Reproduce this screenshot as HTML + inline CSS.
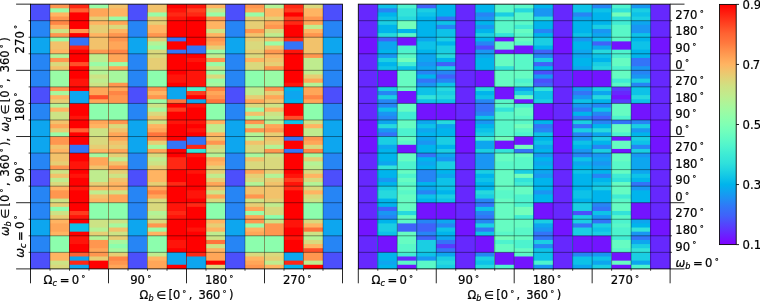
<!DOCTYPE html>
<html><head><meta charset="utf-8"><title>heatmaps</title>
<style>html,body{margin:0;padding:0;background:#fff}svg{display:block}</style></head>
<body>
<svg width="760" height="301" viewBox="0 0 760 301" font-family="'DejaVu Sans','Liberation Sans',sans-serif" fill="#000">
<rect width="760" height="301" fill="#fff"/>
<g><rect x="30.5" y="4.15" width="19.9" height="264.75" fill="#4c4ffc"/>
<rect x="30.5" y="20.7" width="19.9" height="248.2" fill="#2685f5"/>
<rect x="30.5" y="37.24" width="19.9" height="231.66" fill="#0da6ef"/>
<rect x="30.5" y="53.79" width="19.9" height="215.11" fill="#2685f5"/>
<rect x="30.5" y="86.88" width="19.9" height="182.02" fill="#4c4ffc"/>
<rect x="30.5" y="103.43" width="19.9" height="165.47" fill="#2685f5"/>
<rect x="30.5" y="119.98" width="19.9" height="148.92" fill="#0da6ef"/>
<rect x="30.5" y="153.07" width="19.9" height="115.83" fill="#2685f5"/>
<rect x="30.5" y="169.62" width="19.9" height="99.28" fill="#4c4ffc"/>
<rect x="30.5" y="186.17" width="19.9" height="82.73" fill="#2685f5"/>
<rect x="30.5" y="219.26" width="19.9" height="49.64" fill="#0da6ef"/>
<rect x="30.5" y="235.81" width="19.9" height="33.09" fill="#2685f5"/>
<rect x="30.5" y="252.35" width="19.9" height="16.55" fill="#4c4ffc"/>
<rect x="50" y="4.15" width="19.9" height="264.75" fill="#ff964f"/>
<rect x="50" y="8.29" width="19.9" height="260.61" fill="#99fca6"/>
<rect x="50" y="12.42" width="19.9" height="256.48" fill="#ffb462"/>
<rect x="50" y="16.56" width="19.9" height="252.34" fill="#ff964f"/>
<rect x="50" y="20.7" width="19.9" height="248.2" fill="#ff8545"/>
<rect x="50" y="24.83" width="19.9" height="244.07" fill="#ffb462"/>
<rect x="50" y="28.97" width="19.9" height="239.93" fill="#cce385"/>
<rect x="50" y="33.11" width="19.9" height="235.79" fill="#ff964f"/>
<rect x="50" y="37.24" width="19.9" height="231.66" fill="#99fca6"/>
<rect x="50" y="41.38" width="19.9" height="227.52" fill="#f2c26b"/>
<rect x="50" y="49.65" width="19.9" height="219.25" fill="#ffb462"/>
<rect x="50" y="53.79" width="19.9" height="215.11" fill="#b3f396"/>
<rect x="50" y="57.93" width="19.9" height="210.97" fill="#ff964f"/>
<rect x="50" y="62.06" width="19.9" height="206.84" fill="#d9d97d"/>
<rect x="50" y="66.2" width="19.9" height="202.7" fill="#f2c26b"/>
<rect x="50" y="70.34" width="19.9" height="198.56" fill="#99fca6"/>
<rect x="50" y="86.88" width="19.9" height="182.02" fill="#ff964f"/>
<rect x="50" y="91.02" width="19.9" height="177.88" fill="#a6f89e"/>
<rect x="50" y="95.16" width="19.9" height="173.74" fill="#ffb462"/>
<rect x="50" y="99.29" width="19.9" height="169.61" fill="#e6ce74"/>
<rect x="50" y="103.43" width="19.9" height="165.47" fill="#b3f396"/>
<rect x="50" y="107.57" width="19.9" height="161.33" fill="#ffb462"/>
<rect x="50" y="111.7" width="19.9" height="157.2" fill="#cce385"/>
<rect x="50" y="119.98" width="19.9" height="148.92" fill="#f2c26b"/>
<rect x="50" y="124.11" width="19.9" height="144.79" fill="#ffa658"/>
<rect x="50" y="128.25" width="19.9" height="140.65" fill="#e6ce74"/>
<rect x="50" y="132.39" width="19.9" height="136.51" fill="#99fca6"/>
<rect x="50" y="136.53" width="19.9" height="132.37" fill="#ff964f"/>
<rect x="50" y="144.8" width="19.9" height="124.1" fill="#f2c26b"/>
<rect x="50" y="148.94" width="19.9" height="119.96" fill="#ffb462"/>
<rect x="50" y="153.07" width="19.9" height="115.83" fill="#f2c26b"/>
<rect x="50" y="161.35" width="19.9" height="107.55" fill="#e6ce74"/>
<rect x="50" y="165.48" width="19.9" height="103.42" fill="#ff964f"/>
<rect x="50" y="169.62" width="19.9" height="99.28" fill="#cce385"/>
<rect x="50" y="173.76" width="19.9" height="95.14" fill="#f2c26b"/>
<rect x="50" y="177.89" width="19.9" height="91.01" fill="#bfec8e"/>
<rect x="50" y="182.03" width="19.9" height="86.87" fill="#d9d97d"/>
<rect x="50" y="186.17" width="19.9" height="82.73" fill="#ffb462"/>
<rect x="50" y="190.3" width="19.9" height="78.6" fill="#ff964f"/>
<rect x="50" y="198.58" width="19.9" height="70.32" fill="#cce385"/>
<rect x="50" y="202.71" width="19.9" height="66.19" fill="#e6ce74"/>
<rect x="50" y="206.85" width="19.9" height="62.05" fill="#8cfead"/>
<rect x="50" y="210.99" width="19.9" height="57.91" fill="#cce385"/>
<rect x="50" y="215.12" width="19.9" height="53.78" fill="#e6ce74"/>
<rect x="50" y="219.26" width="19.9" height="49.64" fill="#ffb462"/>
<rect x="50" y="223.4" width="19.9" height="45.5" fill="#ffa658"/>
<rect x="50" y="231.67" width="19.9" height="37.23" fill="#ffb462"/>
<rect x="50" y="235.81" width="19.9" height="33.09" fill="#8cfead"/>
<rect x="50" y="252.35" width="19.9" height="16.55" fill="#ffb462"/>
<rect x="50" y="260.63" width="19.9" height="8.27" fill="#cce385"/>
<rect x="50" y="264.76" width="19.9" height="4.14" fill="#d9d97d"/>
<rect x="69.5" y="4.15" width="19.9" height="264.75" fill="#ff2814"/>
<rect x="69.5" y="8.29" width="19.9" height="260.61" fill="#ff6232"/>
<rect x="69.5" y="12.42" width="19.9" height="256.48" fill="#ff0000"/>
<rect x="69.5" y="28.97" width="19.9" height="239.93" fill="#ff964f"/>
<rect x="69.5" y="33.11" width="19.9" height="235.79" fill="#ff0000"/>
<rect x="69.5" y="37.24" width="19.9" height="231.66" fill="#3374f8"/>
<rect x="69.5" y="45.52" width="19.9" height="223.38" fill="#ff2814"/>
<rect x="69.5" y="49.65" width="19.9" height="219.25" fill="#ff0000"/>
<rect x="69.5" y="62.06" width="19.9" height="206.84" fill="#ff4f28"/>
<rect x="69.5" y="66.2" width="19.9" height="202.7" fill="#ff0000"/>
<rect x="69.5" y="78.61" width="19.9" height="190.29" fill="#ff140a"/>
<rect x="69.5" y="86.88" width="19.9" height="182.02" fill="#ff0000"/>
<rect x="69.5" y="91.02" width="19.9" height="177.88" fill="#0da6ef"/>
<rect x="69.5" y="103.43" width="19.9" height="165.47" fill="#ff0000"/>
<rect x="69.5" y="115.84" width="19.9" height="153.06" fill="#ff140a"/>
<rect x="69.5" y="119.98" width="19.9" height="148.92" fill="#ff0000"/>
<rect x="69.5" y="128.25" width="19.9" height="140.65" fill="#ff6232"/>
<rect x="69.5" y="132.39" width="19.9" height="136.51" fill="#ff0000"/>
<rect x="69.5" y="144.8" width="19.9" height="124.1" fill="#3374f8"/>
<rect x="69.5" y="153.07" width="19.9" height="115.83" fill="#ff0000"/>
<rect x="69.5" y="161.35" width="19.9" height="107.55" fill="#ff140a"/>
<rect x="69.5" y="169.62" width="19.9" height="99.28" fill="#ff0000"/>
<rect x="69.5" y="173.76" width="19.9" height="95.14" fill="#ff140a"/>
<rect x="69.5" y="177.89" width="19.9" height="91.01" fill="#ff0000"/>
<rect x="69.5" y="186.17" width="19.9" height="82.73" fill="#ff140a"/>
<rect x="69.5" y="190.3" width="19.9" height="78.6" fill="#ff0000"/>
<rect x="69.5" y="210.99" width="19.9" height="57.91" fill="#ff3c1e"/>
<rect x="69.5" y="215.12" width="19.9" height="53.78" fill="#ff140a"/>
<rect x="69.5" y="219.26" width="19.9" height="49.64" fill="#ff0000"/>
<rect x="69.5" y="223.4" width="19.9" height="45.5" fill="#0dc2e8"/>
<rect x="69.5" y="231.67" width="19.9" height="37.23" fill="#ff0000"/>
<rect x="69.5" y="235.81" width="19.9" height="33.09" fill="#ff140a"/>
<rect x="69.5" y="244.08" width="19.9" height="24.82" fill="#ff0000"/>
<rect x="69.5" y="252.35" width="19.9" height="16.55" fill="#ff6232"/>
<rect x="69.5" y="256.49" width="19.9" height="12.41" fill="#0da6ef"/>
<rect x="69.5" y="260.63" width="19.9" height="8.27" fill="#ff2814"/>
<rect x="69.5" y="264.76" width="19.9" height="4.14" fill="#0da6ef"/>
<rect x="89" y="4.15" width="19.9" height="264.75" fill="#99fca6"/>
<rect x="89" y="8.29" width="19.9" height="260.61" fill="#ffa658"/>
<rect x="89" y="16.56" width="19.9" height="252.34" fill="#e6ce74"/>
<rect x="89" y="20.7" width="19.9" height="248.2" fill="#ffb462"/>
<rect x="89" y="24.83" width="19.9" height="244.07" fill="#e6ce74"/>
<rect x="89" y="33.11" width="19.9" height="235.79" fill="#ffb462"/>
<rect x="89" y="37.24" width="19.9" height="231.66" fill="#f2c26b"/>
<rect x="89" y="49.65" width="19.9" height="219.25" fill="#ff964f"/>
<rect x="89" y="53.79" width="19.9" height="215.11" fill="#bfec8e"/>
<rect x="89" y="62.06" width="19.9" height="206.84" fill="#99fca6"/>
<rect x="89" y="66.2" width="19.9" height="202.7" fill="#bfec8e"/>
<rect x="89" y="70.34" width="19.9" height="198.56" fill="#b3f396"/>
<rect x="89" y="74.47" width="19.9" height="194.43" fill="#cce385"/>
<rect x="89" y="78.61" width="19.9" height="190.29" fill="#bfec8e"/>
<rect x="89" y="82.75" width="19.9" height="186.15" fill="#cce385"/>
<rect x="89" y="86.88" width="19.9" height="182.02" fill="#ffa658"/>
<rect x="89" y="95.16" width="19.9" height="173.74" fill="#ff4f28"/>
<rect x="89" y="99.29" width="19.9" height="169.61" fill="#ffa658"/>
<rect x="89" y="103.43" width="19.9" height="165.47" fill="#8cfead"/>
<rect x="89" y="119.98" width="19.9" height="148.92" fill="#ffa658"/>
<rect x="89" y="124.11" width="19.9" height="144.79" fill="#ffb462"/>
<rect x="89" y="128.25" width="19.9" height="140.65" fill="#cce385"/>
<rect x="89" y="136.53" width="19.9" height="132.37" fill="#d9d97d"/>
<rect x="89" y="144.8" width="19.9" height="124.1" fill="#e6ce74"/>
<rect x="89" y="148.94" width="19.9" height="119.96" fill="#ffb462"/>
<rect x="89" y="153.07" width="19.9" height="115.83" fill="#a6f89e"/>
<rect x="89" y="157.21" width="19.9" height="111.69" fill="#ffa658"/>
<rect x="89" y="165.48" width="19.9" height="103.42" fill="#f2c26b"/>
<rect x="89" y="169.62" width="19.9" height="99.28" fill="#bfec8e"/>
<rect x="89" y="182.03" width="19.9" height="86.87" fill="#e6ce74"/>
<rect x="89" y="186.17" width="19.9" height="82.73" fill="#ffb462"/>
<rect x="89" y="190.3" width="19.9" height="78.6" fill="#bfec8e"/>
<rect x="89" y="194.44" width="19.9" height="74.46" fill="#f2c26b"/>
<rect x="89" y="198.58" width="19.9" height="70.32" fill="#ffb462"/>
<rect x="89" y="202.71" width="19.9" height="66.19" fill="#8cfead"/>
<rect x="89" y="219.26" width="19.9" height="49.64" fill="#cce385"/>
<rect x="89" y="227.53" width="19.9" height="41.37" fill="#b3f396"/>
<rect x="89" y="231.67" width="19.9" height="37.23" fill="#e6ce74"/>
<rect x="89" y="235.81" width="19.9" height="33.09" fill="#b3f396"/>
<rect x="89" y="239.94" width="19.9" height="28.96" fill="#ff964f"/>
<rect x="89" y="248.22" width="19.9" height="20.68" fill="#ffa658"/>
<rect x="89" y="252.35" width="19.9" height="16.55" fill="#ff964f"/>
<rect x="89" y="256.49" width="19.9" height="12.41" fill="#e6ce74"/>
<rect x="89" y="260.63" width="19.9" height="8.27" fill="#ff0000"/>
<rect x="108.5" y="4.15" width="19.9" height="264.75" fill="#f2c26b"/>
<rect x="108.5" y="8.29" width="19.9" height="260.61" fill="#ffb462"/>
<rect x="108.5" y="16.56" width="19.9" height="252.34" fill="#99fca6"/>
<rect x="108.5" y="20.7" width="19.9" height="248.2" fill="#ffa658"/>
<rect x="108.5" y="24.83" width="19.9" height="244.07" fill="#d9d97d"/>
<rect x="108.5" y="28.97" width="19.9" height="239.93" fill="#ffb462"/>
<rect x="108.5" y="33.11" width="19.9" height="235.79" fill="#ff964f"/>
<rect x="108.5" y="41.38" width="19.9" height="227.52" fill="#ffa658"/>
<rect x="108.5" y="49.65" width="19.9" height="219.25" fill="#ff8545"/>
<rect x="108.5" y="53.79" width="19.9" height="215.11" fill="#ffa658"/>
<rect x="108.5" y="62.06" width="19.9" height="206.84" fill="#99fca6"/>
<rect x="108.5" y="66.2" width="19.9" height="202.7" fill="#ffa658"/>
<rect x="108.5" y="70.34" width="19.9" height="198.56" fill="#a6f89e"/>
<rect x="108.5" y="82.75" width="19.9" height="186.15" fill="#ff964f"/>
<rect x="108.5" y="86.88" width="19.9" height="182.02" fill="#ffa658"/>
<rect x="108.5" y="91.02" width="19.9" height="177.88" fill="#ff8545"/>
<rect x="108.5" y="95.16" width="19.9" height="173.74" fill="#ff964f"/>
<rect x="108.5" y="103.43" width="19.9" height="165.47" fill="#8cfead"/>
<rect x="108.5" y="119.98" width="19.9" height="148.92" fill="#ff964f"/>
<rect x="108.5" y="124.11" width="19.9" height="144.79" fill="#d9d97d"/>
<rect x="108.5" y="128.25" width="19.9" height="140.65" fill="#f2c26b"/>
<rect x="108.5" y="132.39" width="19.9" height="136.51" fill="#ffa658"/>
<rect x="108.5" y="140.66" width="19.9" height="128.24" fill="#f2c26b"/>
<rect x="108.5" y="144.8" width="19.9" height="124.1" fill="#e6ce74"/>
<rect x="108.5" y="148.94" width="19.9" height="119.96" fill="#ffa658"/>
<rect x="108.5" y="153.07" width="19.9" height="115.83" fill="#e6ce74"/>
<rect x="108.5" y="157.21" width="19.9" height="111.69" fill="#bfec8e"/>
<rect x="108.5" y="161.35" width="19.9" height="107.55" fill="#f2c26b"/>
<rect x="108.5" y="165.48" width="19.9" height="103.42" fill="#ff964f"/>
<rect x="108.5" y="169.62" width="19.9" height="99.28" fill="#e6ce74"/>
<rect x="108.5" y="173.76" width="19.9" height="95.14" fill="#cce385"/>
<rect x="108.5" y="177.89" width="19.9" height="91.01" fill="#f2c26b"/>
<rect x="108.5" y="182.03" width="19.9" height="86.87" fill="#ffb462"/>
<rect x="108.5" y="190.3" width="19.9" height="78.6" fill="#cce385"/>
<rect x="108.5" y="194.44" width="19.9" height="74.46" fill="#ffa658"/>
<rect x="108.5" y="202.71" width="19.9" height="66.19" fill="#8cfead"/>
<rect x="108.5" y="219.26" width="19.9" height="49.64" fill="#cce385"/>
<rect x="108.5" y="223.4" width="19.9" height="45.5" fill="#a6f89e"/>
<rect x="108.5" y="227.53" width="19.9" height="41.37" fill="#f2c26b"/>
<rect x="108.5" y="231.67" width="19.9" height="37.23" fill="#cce385"/>
<rect x="108.5" y="235.81" width="19.9" height="33.09" fill="#e6ce74"/>
<rect x="108.5" y="239.94" width="19.9" height="28.96" fill="#a6f89e"/>
<rect x="108.5" y="244.08" width="19.9" height="24.82" fill="#8cfead"/>
<rect x="108.5" y="248.22" width="19.9" height="20.68" fill="#a6f89e"/>
<rect x="108.5" y="252.35" width="19.9" height="16.55" fill="#e6ce74"/>
<rect x="108.5" y="256.49" width="19.9" height="12.41" fill="#ff8545"/>
<rect x="108.5" y="260.63" width="19.9" height="8.27" fill="#ff964f"/>
<rect x="108.5" y="264.76" width="19.9" height="4.14" fill="#ffa658"/>
<rect x="128" y="4.15" width="19.9" height="264.75" fill="#4c4ffc"/>
<rect x="128" y="20.7" width="19.9" height="248.2" fill="#2685f5"/>
<rect x="128" y="37.24" width="19.9" height="231.66" fill="#0da6ef"/>
<rect x="128" y="53.79" width="19.9" height="215.11" fill="#2685f5"/>
<rect x="128" y="86.88" width="19.9" height="182.02" fill="#4c4ffc"/>
<rect x="128" y="103.43" width="19.9" height="165.47" fill="#2685f5"/>
<rect x="128" y="119.98" width="19.9" height="148.92" fill="#0da6ef"/>
<rect x="128" y="153.07" width="19.9" height="115.83" fill="#2685f5"/>
<rect x="128" y="169.62" width="19.9" height="99.28" fill="#4c4ffc"/>
<rect x="128" y="186.17" width="19.9" height="82.73" fill="#2685f5"/>
<rect x="128" y="219.26" width="19.9" height="49.64" fill="#0da6ef"/>
<rect x="128" y="235.81" width="19.9" height="33.09" fill="#2685f5"/>
<rect x="128" y="252.35" width="19.9" height="16.55" fill="#4c4ffc"/>
<rect x="147.5" y="4.15" width="19.9" height="264.75" fill="#f2c26b"/>
<rect x="147.5" y="12.42" width="19.9" height="256.48" fill="#99fca6"/>
<rect x="147.5" y="16.56" width="19.9" height="252.34" fill="#e6ce74"/>
<rect x="147.5" y="24.83" width="19.9" height="244.07" fill="#ffb462"/>
<rect x="147.5" y="33.11" width="19.9" height="235.79" fill="#ff964f"/>
<rect x="147.5" y="37.24" width="19.9" height="231.66" fill="#e6ce74"/>
<rect x="147.5" y="41.38" width="19.9" height="227.52" fill="#b3f396"/>
<rect x="147.5" y="45.52" width="19.9" height="223.38" fill="#99fca6"/>
<rect x="147.5" y="49.65" width="19.9" height="219.25" fill="#d9d97d"/>
<rect x="147.5" y="57.93" width="19.9" height="210.97" fill="#e6ce74"/>
<rect x="147.5" y="70.34" width="19.9" height="198.56" fill="#8cfead"/>
<rect x="147.5" y="86.88" width="19.9" height="182.02" fill="#ff964f"/>
<rect x="147.5" y="91.02" width="19.9" height="177.88" fill="#ffb462"/>
<rect x="147.5" y="95.16" width="19.9" height="173.74" fill="#ff964f"/>
<rect x="147.5" y="99.29" width="19.9" height="169.61" fill="#99fca6"/>
<rect x="147.5" y="103.43" width="19.9" height="165.47" fill="#cce385"/>
<rect x="147.5" y="107.57" width="19.9" height="161.33" fill="#a6f89e"/>
<rect x="147.5" y="111.7" width="19.9" height="157.2" fill="#d9d97d"/>
<rect x="147.5" y="115.84" width="19.9" height="153.06" fill="#f2c26b"/>
<rect x="147.5" y="119.98" width="19.9" height="148.92" fill="#cce385"/>
<rect x="147.5" y="124.11" width="19.9" height="144.79" fill="#ffb462"/>
<rect x="147.5" y="128.25" width="19.9" height="140.65" fill="#ffa658"/>
<rect x="147.5" y="132.39" width="19.9" height="136.51" fill="#ff743c"/>
<rect x="147.5" y="136.53" width="19.9" height="132.37" fill="#ff8545"/>
<rect x="147.5" y="140.66" width="19.9" height="128.24" fill="#e6ce74"/>
<rect x="147.5" y="144.8" width="19.9" height="124.1" fill="#a6f89e"/>
<rect x="147.5" y="148.94" width="19.9" height="119.96" fill="#ffa658"/>
<rect x="147.5" y="153.07" width="19.9" height="115.83" fill="#d9d97d"/>
<rect x="147.5" y="157.21" width="19.9" height="111.69" fill="#bfec8e"/>
<rect x="147.5" y="161.35" width="19.9" height="107.55" fill="#cce385"/>
<rect x="147.5" y="165.48" width="19.9" height="103.42" fill="#e6ce74"/>
<rect x="147.5" y="169.62" width="19.9" height="99.28" fill="#ffb462"/>
<rect x="147.5" y="182.03" width="19.9" height="86.87" fill="#e6ce74"/>
<rect x="147.5" y="186.17" width="19.9" height="82.73" fill="#ffa658"/>
<rect x="147.5" y="190.3" width="19.9" height="78.6" fill="#ff8545"/>
<rect x="147.5" y="194.44" width="19.9" height="74.46" fill="#ffa658"/>
<rect x="147.5" y="198.58" width="19.9" height="70.32" fill="#d9d97d"/>
<rect x="147.5" y="210.99" width="19.9" height="57.91" fill="#b3f396"/>
<rect x="147.5" y="215.12" width="19.9" height="53.78" fill="#bfec8e"/>
<rect x="147.5" y="219.26" width="19.9" height="49.64" fill="#d9d97d"/>
<rect x="147.5" y="223.4" width="19.9" height="45.5" fill="#ff964f"/>
<rect x="147.5" y="227.53" width="19.9" height="41.37" fill="#99fca6"/>
<rect x="147.5" y="231.67" width="19.9" height="37.23" fill="#ffb462"/>
<rect x="147.5" y="235.81" width="19.9" height="33.09" fill="#8cfead"/>
<rect x="147.5" y="252.35" width="19.9" height="16.55" fill="#bfec8e"/>
<rect x="147.5" y="256.49" width="19.9" height="12.41" fill="#ffb462"/>
<rect x="147.5" y="260.63" width="19.9" height="8.27" fill="#ffa658"/>
<rect x="167" y="4.15" width="19.9" height="264.75" fill="#ff0000"/>
<rect x="167" y="8.29" width="19.9" height="260.61" fill="#ff140a"/>
<rect x="167" y="12.42" width="19.9" height="256.48" fill="#ff2814"/>
<rect x="167" y="16.56" width="19.9" height="252.34" fill="#ff140a"/>
<rect x="167" y="20.7" width="19.9" height="248.2" fill="#ff0000"/>
<rect x="167" y="37.24" width="19.9" height="231.66" fill="#3374f8"/>
<rect x="167" y="41.38" width="19.9" height="227.52" fill="#ff0000"/>
<rect x="167" y="49.65" width="19.9" height="219.25" fill="#3374f8"/>
<rect x="167" y="53.79" width="19.9" height="215.11" fill="#ff0000"/>
<rect x="167" y="74.47" width="19.9" height="194.43" fill="#ff140a"/>
<rect x="167" y="82.75" width="19.9" height="186.15" fill="#ff0000"/>
<rect x="167" y="86.88" width="19.9" height="182.02" fill="#0da6ef"/>
<rect x="167" y="99.29" width="19.9" height="169.61" fill="#ff743c"/>
<rect x="167" y="103.43" width="19.9" height="165.47" fill="#ff0000"/>
<rect x="167" y="107.57" width="19.9" height="161.33" fill="#ff3c1e"/>
<rect x="167" y="111.7" width="19.9" height="157.2" fill="#ff0000"/>
<rect x="167" y="119.98" width="19.9" height="148.92" fill="#ff140a"/>
<rect x="167" y="124.11" width="19.9" height="144.79" fill="#ff0000"/>
<rect x="167" y="140.66" width="19.9" height="128.24" fill="#3374f8"/>
<rect x="167" y="148.94" width="19.9" height="119.96" fill="#ff0000"/>
<rect x="167" y="157.21" width="19.9" height="111.69" fill="#ff2814"/>
<rect x="167" y="169.62" width="19.9" height="99.28" fill="#ff0000"/>
<rect x="167" y="182.03" width="19.9" height="86.87" fill="#ff2814"/>
<rect x="167" y="186.17" width="19.9" height="82.73" fill="#ff0000"/>
<rect x="167" y="202.71" width="19.9" height="66.19" fill="#ff140a"/>
<rect x="167" y="210.99" width="19.9" height="57.91" fill="#ff2814"/>
<rect x="167" y="215.12" width="19.9" height="53.78" fill="#ff140a"/>
<rect x="167" y="219.26" width="19.9" height="49.64" fill="#ff0000"/>
<rect x="167" y="239.94" width="19.9" height="28.96" fill="#ff140a"/>
<rect x="167" y="248.22" width="19.9" height="20.68" fill="#ff0000"/>
<rect x="167" y="252.35" width="19.9" height="16.55" fill="#0da6ef"/>
<rect x="167" y="264.76" width="19.9" height="4.14" fill="#ff0000"/>
<rect x="186.5" y="4.15" width="19.9" height="264.75" fill="#ff140a"/>
<rect x="186.5" y="8.29" width="19.9" height="260.61" fill="#ff3c1e"/>
<rect x="186.5" y="12.42" width="19.9" height="256.48" fill="#ff2814"/>
<rect x="186.5" y="16.56" width="19.9" height="252.34" fill="#ff0000"/>
<rect x="186.5" y="45.52" width="19.9" height="223.38" fill="#3374f8"/>
<rect x="186.5" y="53.79" width="19.9" height="215.11" fill="#ff0000"/>
<rect x="186.5" y="57.93" width="19.9" height="210.97" fill="#ff140a"/>
<rect x="186.5" y="62.06" width="19.9" height="206.84" fill="#ff0000"/>
<rect x="186.5" y="70.34" width="19.9" height="198.56" fill="#ff140a"/>
<rect x="186.5" y="86.88" width="19.9" height="182.02" fill="#4df3ce"/>
<rect x="186.5" y="91.02" width="19.9" height="177.88" fill="#ff3c1e"/>
<rect x="186.5" y="95.16" width="19.9" height="173.74" fill="#ff0000"/>
<rect x="186.5" y="99.29" width="19.9" height="169.61" fill="#0da6ef"/>
<rect x="186.5" y="103.43" width="19.9" height="165.47" fill="#ff140a"/>
<rect x="186.5" y="107.57" width="19.9" height="161.33" fill="#ff0000"/>
<rect x="186.5" y="119.98" width="19.9" height="148.92" fill="#ff140a"/>
<rect x="186.5" y="124.11" width="19.9" height="144.79" fill="#ff0000"/>
<rect x="186.5" y="128.25" width="19.9" height="140.65" fill="#ff140a"/>
<rect x="186.5" y="132.39" width="19.9" height="136.51" fill="#ff0000"/>
<rect x="186.5" y="136.53" width="19.9" height="132.37" fill="#3374f8"/>
<rect x="186.5" y="144.8" width="19.9" height="124.1" fill="#ff2814"/>
<rect x="186.5" y="148.94" width="19.9" height="119.96" fill="#33e3d9"/>
<rect x="186.5" y="153.07" width="19.9" height="115.83" fill="#ff140a"/>
<rect x="186.5" y="157.21" width="19.9" height="111.69" fill="#ff0000"/>
<rect x="186.5" y="169.62" width="19.9" height="99.28" fill="#ff140a"/>
<rect x="186.5" y="173.76" width="19.9" height="95.14" fill="#ff0000"/>
<rect x="186.5" y="190.3" width="19.9" height="78.6" fill="#ff140a"/>
<rect x="186.5" y="198.58" width="19.9" height="70.32" fill="#ff0000"/>
<rect x="186.5" y="202.71" width="19.9" height="66.19" fill="#ff2814"/>
<rect x="186.5" y="206.85" width="19.9" height="62.05" fill="#ff0000"/>
<rect x="186.5" y="227.53" width="19.9" height="41.37" fill="#ff140a"/>
<rect x="186.5" y="231.67" width="19.9" height="37.23" fill="#ff0000"/>
<rect x="186.5" y="252.35" width="19.9" height="16.55" fill="#ff2814"/>
<rect x="186.5" y="256.49" width="19.9" height="12.41" fill="#0da6ef"/>
<rect x="206" y="4.15" width="19.9" height="264.75" fill="#ffb462"/>
<rect x="206" y="8.29" width="19.9" height="260.61" fill="#cce385"/>
<rect x="206" y="12.42" width="19.9" height="256.48" fill="#99fca6"/>
<rect x="206" y="16.56" width="19.9" height="252.34" fill="#ff964f"/>
<rect x="206" y="20.7" width="19.9" height="248.2" fill="#ffb462"/>
<rect x="206" y="28.97" width="19.9" height="239.93" fill="#cce385"/>
<rect x="206" y="33.11" width="19.9" height="235.79" fill="#ffb462"/>
<rect x="206" y="37.24" width="19.9" height="231.66" fill="#ff964f"/>
<rect x="206" y="41.38" width="19.9" height="227.52" fill="#ffa658"/>
<rect x="206" y="45.52" width="19.9" height="223.38" fill="#e6ce74"/>
<rect x="206" y="49.65" width="19.9" height="219.25" fill="#99fca6"/>
<rect x="206" y="53.79" width="19.9" height="215.11" fill="#bfec8e"/>
<rect x="206" y="57.93" width="19.9" height="210.97" fill="#ff964f"/>
<rect x="206" y="62.06" width="19.9" height="206.84" fill="#99fca6"/>
<rect x="206" y="66.2" width="19.9" height="202.7" fill="#cce385"/>
<rect x="206" y="70.34" width="19.9" height="198.56" fill="#99fca6"/>
<rect x="206" y="74.47" width="19.9" height="194.43" fill="#d9d97d"/>
<rect x="206" y="78.61" width="19.9" height="190.29" fill="#99fca6"/>
<rect x="206" y="82.75" width="19.9" height="186.15" fill="#a6f89e"/>
<rect x="206" y="86.88" width="19.9" height="182.02" fill="#ff8545"/>
<rect x="206" y="91.02" width="19.9" height="177.88" fill="#ffa658"/>
<rect x="206" y="95.16" width="19.9" height="173.74" fill="#ff964f"/>
<rect x="206" y="99.29" width="19.9" height="169.61" fill="#ff743c"/>
<rect x="206" y="103.43" width="19.9" height="165.47" fill="#8cfead"/>
<rect x="206" y="119.98" width="19.9" height="148.92" fill="#ffb462"/>
<rect x="206" y="124.11" width="19.9" height="144.79" fill="#bfec8e"/>
<rect x="206" y="132.39" width="19.9" height="136.51" fill="#ffb462"/>
<rect x="206" y="136.53" width="19.9" height="132.37" fill="#f2c26b"/>
<rect x="206" y="140.66" width="19.9" height="128.24" fill="#ff964f"/>
<rect x="206" y="144.8" width="19.9" height="124.1" fill="#d9d97d"/>
<rect x="206" y="148.94" width="19.9" height="119.96" fill="#cce385"/>
<rect x="206" y="153.07" width="19.9" height="115.83" fill="#b3f396"/>
<rect x="206" y="157.21" width="19.9" height="111.69" fill="#ffa658"/>
<rect x="206" y="161.35" width="19.9" height="107.55" fill="#ffb462"/>
<rect x="206" y="165.48" width="19.9" height="103.42" fill="#e6ce74"/>
<rect x="206" y="173.76" width="19.9" height="95.14" fill="#bfec8e"/>
<rect x="206" y="177.89" width="19.9" height="91.01" fill="#e6ce74"/>
<rect x="206" y="182.03" width="19.9" height="86.87" fill="#ffa658"/>
<rect x="206" y="186.17" width="19.9" height="82.73" fill="#f2c26b"/>
<rect x="206" y="190.3" width="19.9" height="78.6" fill="#cce385"/>
<rect x="206" y="194.44" width="19.9" height="74.46" fill="#ffa658"/>
<rect x="206" y="198.58" width="19.9" height="70.32" fill="#d9d97d"/>
<rect x="206" y="202.71" width="19.9" height="66.19" fill="#8cfead"/>
<rect x="206" y="219.26" width="19.9" height="49.64" fill="#ffb462"/>
<rect x="206" y="223.4" width="19.9" height="45.5" fill="#e6ce74"/>
<rect x="206" y="227.53" width="19.9" height="41.37" fill="#ffb462"/>
<rect x="206" y="231.67" width="19.9" height="37.23" fill="#bfec8e"/>
<rect x="206" y="235.81" width="19.9" height="33.09" fill="#cce385"/>
<rect x="206" y="239.94" width="19.9" height="28.96" fill="#ff743c"/>
<rect x="206" y="244.08" width="19.9" height="24.82" fill="#cce385"/>
<rect x="206" y="248.22" width="19.9" height="20.68" fill="#ffb462"/>
<rect x="206" y="252.35" width="19.9" height="16.55" fill="#ffa658"/>
<rect x="206" y="260.63" width="19.9" height="8.27" fill="#ff0000"/>
<rect x="206" y="264.76" width="19.9" height="4.14" fill="#d9d97d"/>
<rect x="225.5" y="4.15" width="19.9" height="264.75" fill="#4c4ffc"/>
<rect x="225.5" y="20.7" width="19.9" height="248.2" fill="#2685f5"/>
<rect x="225.5" y="37.24" width="19.9" height="231.66" fill="#0da6ef"/>
<rect x="225.5" y="53.79" width="19.9" height="215.11" fill="#2685f5"/>
<rect x="225.5" y="86.88" width="19.9" height="182.02" fill="#4c4ffc"/>
<rect x="225.5" y="103.43" width="19.9" height="165.47" fill="#2685f5"/>
<rect x="225.5" y="119.98" width="19.9" height="148.92" fill="#0da6ef"/>
<rect x="225.5" y="153.07" width="19.9" height="115.83" fill="#2685f5"/>
<rect x="225.5" y="169.62" width="19.9" height="99.28" fill="#4c4ffc"/>
<rect x="225.5" y="186.17" width="19.9" height="82.73" fill="#2685f5"/>
<rect x="225.5" y="219.26" width="19.9" height="49.64" fill="#0da6ef"/>
<rect x="225.5" y="235.81" width="19.9" height="33.09" fill="#2685f5"/>
<rect x="225.5" y="252.35" width="19.9" height="16.55" fill="#4c4ffc"/>
<rect x="245" y="4.15" width="19.9" height="264.75" fill="#ff964f"/>
<rect x="245" y="8.29" width="19.9" height="260.61" fill="#ffa658"/>
<rect x="245" y="12.42" width="19.9" height="256.48" fill="#99fca6"/>
<rect x="245" y="16.56" width="19.9" height="252.34" fill="#e6ce74"/>
<rect x="245" y="28.97" width="19.9" height="239.93" fill="#ff964f"/>
<rect x="245" y="33.11" width="19.9" height="235.79" fill="#f2c26b"/>
<rect x="245" y="37.24" width="19.9" height="231.66" fill="#e6ce74"/>
<rect x="245" y="41.38" width="19.9" height="227.52" fill="#d9d97d"/>
<rect x="245" y="49.65" width="19.9" height="219.25" fill="#e6ce74"/>
<rect x="245" y="53.79" width="19.9" height="215.11" fill="#d9d97d"/>
<rect x="245" y="57.93" width="19.9" height="210.97" fill="#ffb462"/>
<rect x="245" y="62.06" width="19.9" height="206.84" fill="#d9d97d"/>
<rect x="245" y="70.34" width="19.9" height="198.56" fill="#8cfead"/>
<rect x="245" y="86.88" width="19.9" height="182.02" fill="#bfec8e"/>
<rect x="245" y="95.16" width="19.9" height="173.74" fill="#e6ce74"/>
<rect x="245" y="99.29" width="19.9" height="169.61" fill="#ffa658"/>
<rect x="245" y="103.43" width="19.9" height="165.47" fill="#d9d97d"/>
<rect x="245" y="107.57" width="19.9" height="161.33" fill="#99fca6"/>
<rect x="245" y="111.7" width="19.9" height="157.2" fill="#f2c26b"/>
<rect x="245" y="115.84" width="19.9" height="153.06" fill="#a6f89e"/>
<rect x="245" y="119.98" width="19.9" height="148.92" fill="#ff964f"/>
<rect x="245" y="124.11" width="19.9" height="144.79" fill="#bfec8e"/>
<rect x="245" y="128.25" width="19.9" height="140.65" fill="#ff964f"/>
<rect x="245" y="132.39" width="19.9" height="136.51" fill="#b3f396"/>
<rect x="245" y="140.66" width="19.9" height="128.24" fill="#f2c26b"/>
<rect x="245" y="144.8" width="19.9" height="124.1" fill="#d9d97d"/>
<rect x="245" y="153.07" width="19.9" height="115.83" fill="#a6f89e"/>
<rect x="245" y="157.21" width="19.9" height="111.69" fill="#f2c26b"/>
<rect x="245" y="161.35" width="19.9" height="107.55" fill="#d9d97d"/>
<rect x="245" y="169.62" width="19.9" height="99.28" fill="#ffa658"/>
<rect x="245" y="173.76" width="19.9" height="95.14" fill="#e6ce74"/>
<rect x="245" y="177.89" width="19.9" height="91.01" fill="#d9d97d"/>
<rect x="245" y="182.03" width="19.9" height="86.87" fill="#b3f396"/>
<rect x="245" y="186.17" width="19.9" height="82.73" fill="#f2c26b"/>
<rect x="245" y="194.44" width="19.9" height="74.46" fill="#ff964f"/>
<rect x="245" y="198.58" width="19.9" height="70.32" fill="#cce385"/>
<rect x="245" y="202.71" width="19.9" height="66.19" fill="#e6ce74"/>
<rect x="245" y="206.85" width="19.9" height="62.05" fill="#ffa658"/>
<rect x="245" y="210.99" width="19.9" height="57.91" fill="#99fca6"/>
<rect x="245" y="215.12" width="19.9" height="53.78" fill="#ffa658"/>
<rect x="245" y="219.26" width="19.9" height="49.64" fill="#ff964f"/>
<rect x="245" y="223.4" width="19.9" height="45.5" fill="#99fca6"/>
<rect x="245" y="227.53" width="19.9" height="41.37" fill="#ffb462"/>
<rect x="245" y="231.67" width="19.9" height="37.23" fill="#ffa658"/>
<rect x="245" y="235.81" width="19.9" height="33.09" fill="#8cfead"/>
<rect x="245" y="252.35" width="19.9" height="16.55" fill="#d9d97d"/>
<rect x="245" y="256.49" width="19.9" height="12.41" fill="#ffb462"/>
<rect x="245" y="260.63" width="19.9" height="8.27" fill="#ffa658"/>
<rect x="245" y="264.76" width="19.9" height="4.14" fill="#ff964f"/>
<rect x="264.5" y="4.15" width="19.9" height="264.75" fill="#b3f396"/>
<rect x="264.5" y="8.29" width="19.9" height="260.61" fill="#ffb462"/>
<rect x="264.5" y="16.56" width="19.9" height="252.34" fill="#e6ce74"/>
<rect x="264.5" y="20.7" width="19.9" height="248.2" fill="#ffa658"/>
<rect x="264.5" y="24.83" width="19.9" height="244.07" fill="#ff964f"/>
<rect x="264.5" y="28.97" width="19.9" height="239.93" fill="#d9d97d"/>
<rect x="264.5" y="33.11" width="19.9" height="235.79" fill="#bfec8e"/>
<rect x="264.5" y="37.24" width="19.9" height="231.66" fill="#f2c26b"/>
<rect x="264.5" y="41.38" width="19.9" height="227.52" fill="#99fca6"/>
<rect x="264.5" y="45.52" width="19.9" height="223.38" fill="#f2c26b"/>
<rect x="264.5" y="49.65" width="19.9" height="219.25" fill="#ff964f"/>
<rect x="264.5" y="53.79" width="19.9" height="215.11" fill="#ffb462"/>
<rect x="264.5" y="57.93" width="19.9" height="210.97" fill="#f2c26b"/>
<rect x="264.5" y="62.06" width="19.9" height="206.84" fill="#e6ce74"/>
<rect x="264.5" y="66.2" width="19.9" height="202.7" fill="#ff964f"/>
<rect x="264.5" y="70.34" width="19.9" height="198.56" fill="#99fca6"/>
<rect x="264.5" y="86.88" width="19.9" height="182.02" fill="#ff964f"/>
<rect x="264.5" y="91.02" width="19.9" height="177.88" fill="#e6ce74"/>
<rect x="264.5" y="95.16" width="19.9" height="173.74" fill="#ffa658"/>
<rect x="264.5" y="99.29" width="19.9" height="169.61" fill="#f2c26b"/>
<rect x="264.5" y="103.43" width="19.9" height="165.47" fill="#cce385"/>
<rect x="264.5" y="107.57" width="19.9" height="161.33" fill="#ffb462"/>
<rect x="264.5" y="111.7" width="19.9" height="157.2" fill="#cce385"/>
<rect x="264.5" y="115.84" width="19.9" height="153.06" fill="#bfec8e"/>
<rect x="264.5" y="119.98" width="19.9" height="148.92" fill="#b3f396"/>
<rect x="264.5" y="124.11" width="19.9" height="144.79" fill="#ffa658"/>
<rect x="264.5" y="128.25" width="19.9" height="140.65" fill="#ff964f"/>
<rect x="264.5" y="132.39" width="19.9" height="136.51" fill="#e6ce74"/>
<rect x="264.5" y="136.53" width="19.9" height="132.37" fill="#f2c26b"/>
<rect x="264.5" y="140.66" width="19.9" height="128.24" fill="#e6ce74"/>
<rect x="264.5" y="144.8" width="19.9" height="124.1" fill="#b3f396"/>
<rect x="264.5" y="148.94" width="19.9" height="119.96" fill="#ff964f"/>
<rect x="264.5" y="153.07" width="19.9" height="115.83" fill="#cce385"/>
<rect x="264.5" y="157.21" width="19.9" height="111.69" fill="#d9d97d"/>
<rect x="264.5" y="169.62" width="19.9" height="99.28" fill="#e6ce74"/>
<rect x="264.5" y="173.76" width="19.9" height="95.14" fill="#b3f396"/>
<rect x="264.5" y="177.89" width="19.9" height="91.01" fill="#e6ce74"/>
<rect x="264.5" y="182.03" width="19.9" height="86.87" fill="#f2c26b"/>
<rect x="264.5" y="198.58" width="19.9" height="70.32" fill="#e6ce74"/>
<rect x="264.5" y="202.71" width="19.9" height="66.19" fill="#bfec8e"/>
<rect x="264.5" y="206.85" width="19.9" height="62.05" fill="#d9d97d"/>
<rect x="264.5" y="215.12" width="19.9" height="53.78" fill="#8cfead"/>
<rect x="264.5" y="219.26" width="19.9" height="49.64" fill="#cce385"/>
<rect x="264.5" y="223.4" width="19.9" height="45.5" fill="#ff964f"/>
<rect x="264.5" y="235.81" width="19.9" height="33.09" fill="#8cfead"/>
<rect x="264.5" y="252.35" width="19.9" height="16.55" fill="#d9d97d"/>
<rect x="264.5" y="256.49" width="19.9" height="12.41" fill="#e6ce74"/>
<rect x="264.5" y="260.63" width="19.9" height="8.27" fill="#bfec8e"/>
<rect x="264.5" y="264.76" width="19.9" height="4.14" fill="#ffb462"/>
<rect x="284" y="4.15" width="19.9" height="264.75" fill="#ff2814"/>
<rect x="284" y="8.29" width="19.9" height="260.61" fill="#ff3c1e"/>
<rect x="284" y="12.42" width="19.9" height="256.48" fill="#ff0000"/>
<rect x="284" y="16.56" width="19.9" height="252.34" fill="#ff3c1e"/>
<rect x="284" y="20.7" width="19.9" height="248.2" fill="#ff2814"/>
<rect x="284" y="24.83" width="19.9" height="244.07" fill="#ff0000"/>
<rect x="284" y="37.24" width="19.9" height="231.66" fill="#ff2814"/>
<rect x="284" y="41.38" width="19.9" height="227.52" fill="#3374f8"/>
<rect x="284" y="49.65" width="19.9" height="219.25" fill="#ff140a"/>
<rect x="284" y="53.79" width="19.9" height="215.11" fill="#ff0000"/>
<rect x="284" y="82.75" width="19.9" height="186.15" fill="#ff140a"/>
<rect x="284" y="86.88" width="19.9" height="182.02" fill="#00b4ec"/>
<rect x="284" y="91.02" width="19.9" height="177.88" fill="#0da6ef"/>
<rect x="284" y="99.29" width="19.9" height="169.61" fill="#00b4ec"/>
<rect x="284" y="103.43" width="19.9" height="165.47" fill="#ff0000"/>
<rect x="284" y="115.84" width="19.9" height="153.06" fill="#ff4f28"/>
<rect x="284" y="119.98" width="19.9" height="148.92" fill="#0dc2e8"/>
<rect x="284" y="124.11" width="19.9" height="144.79" fill="#ff0000"/>
<rect x="284" y="136.53" width="19.9" height="132.37" fill="#3374f8"/>
<rect x="284" y="140.66" width="19.9" height="128.24" fill="#ff0000"/>
<rect x="284" y="148.94" width="19.9" height="119.96" fill="#3374f8"/>
<rect x="284" y="153.07" width="19.9" height="115.83" fill="#ff0000"/>
<rect x="284" y="173.76" width="19.9" height="95.14" fill="#ff140a"/>
<rect x="284" y="177.89" width="19.9" height="91.01" fill="#ff3c1e"/>
<rect x="284" y="182.03" width="19.9" height="86.87" fill="#ff140a"/>
<rect x="284" y="186.17" width="19.9" height="82.73" fill="#ff2814"/>
<rect x="284" y="190.3" width="19.9" height="78.6" fill="#ff0000"/>
<rect x="284" y="219.26" width="19.9" height="49.64" fill="#ff140a"/>
<rect x="284" y="227.53" width="19.9" height="41.37" fill="#ff0000"/>
<rect x="284" y="235.81" width="19.9" height="33.09" fill="#ff140a"/>
<rect x="284" y="239.94" width="19.9" height="28.96" fill="#ff0000"/>
<rect x="284" y="252.35" width="19.9" height="16.55" fill="#0da6ef"/>
<rect x="284" y="260.63" width="19.9" height="8.27" fill="#ff2814"/>
<rect x="284" y="264.76" width="19.9" height="4.14" fill="#00b4ec"/>
<rect x="303.5" y="4.15" width="19.9" height="264.75" fill="#d9d97d"/>
<rect x="303.5" y="8.29" width="19.9" height="260.61" fill="#ffb462"/>
<rect x="303.5" y="16.56" width="19.9" height="252.34" fill="#ff964f"/>
<rect x="303.5" y="20.7" width="19.9" height="248.2" fill="#ffa658"/>
<rect x="303.5" y="24.83" width="19.9" height="244.07" fill="#bfec8e"/>
<rect x="303.5" y="28.97" width="19.9" height="239.93" fill="#ffb462"/>
<rect x="303.5" y="33.11" width="19.9" height="235.79" fill="#ff964f"/>
<rect x="303.5" y="37.24" width="19.9" height="231.66" fill="#f2c26b"/>
<rect x="303.5" y="53.79" width="19.9" height="215.11" fill="#ff964f"/>
<rect x="303.5" y="57.93" width="19.9" height="210.97" fill="#bfec8e"/>
<rect x="303.5" y="74.47" width="19.9" height="194.43" fill="#e6ce74"/>
<rect x="303.5" y="78.61" width="19.9" height="190.29" fill="#ffa658"/>
<rect x="303.5" y="82.75" width="19.9" height="186.15" fill="#b3f396"/>
<rect x="303.5" y="86.88" width="19.9" height="182.02" fill="#ffa658"/>
<rect x="303.5" y="95.16" width="19.9" height="173.74" fill="#ff8545"/>
<rect x="303.5" y="99.29" width="19.9" height="169.61" fill="#ffa658"/>
<rect x="303.5" y="103.43" width="19.9" height="165.47" fill="#8cfead"/>
<rect x="303.5" y="119.98" width="19.9" height="148.92" fill="#cce385"/>
<rect x="303.5" y="124.11" width="19.9" height="144.79" fill="#ffb462"/>
<rect x="303.5" y="128.25" width="19.9" height="140.65" fill="#bfec8e"/>
<rect x="303.5" y="136.53" width="19.9" height="132.37" fill="#ff964f"/>
<rect x="303.5" y="140.66" width="19.9" height="128.24" fill="#ffa658"/>
<rect x="303.5" y="144.8" width="19.9" height="124.1" fill="#d9d97d"/>
<rect x="303.5" y="148.94" width="19.9" height="119.96" fill="#ff8545"/>
<rect x="303.5" y="153.07" width="19.9" height="115.83" fill="#a6f89e"/>
<rect x="303.5" y="157.21" width="19.9" height="111.69" fill="#e6ce74"/>
<rect x="303.5" y="161.35" width="19.9" height="107.55" fill="#b3f396"/>
<rect x="303.5" y="165.48" width="19.9" height="103.42" fill="#bfec8e"/>
<rect x="303.5" y="169.62" width="19.9" height="99.28" fill="#d9d97d"/>
<rect x="303.5" y="173.76" width="19.9" height="95.14" fill="#ffb462"/>
<rect x="303.5" y="177.89" width="19.9" height="91.01" fill="#d9d97d"/>
<rect x="303.5" y="182.03" width="19.9" height="86.87" fill="#b3f396"/>
<rect x="303.5" y="186.17" width="19.9" height="82.73" fill="#d9d97d"/>
<rect x="303.5" y="190.3" width="19.9" height="78.6" fill="#ffb462"/>
<rect x="303.5" y="194.44" width="19.9" height="74.46" fill="#d9d97d"/>
<rect x="303.5" y="198.58" width="19.9" height="70.32" fill="#cce385"/>
<rect x="303.5" y="202.71" width="19.9" height="66.19" fill="#8cfead"/>
<rect x="303.5" y="219.26" width="19.9" height="49.64" fill="#d9d97d"/>
<rect x="303.5" y="223.4" width="19.9" height="45.5" fill="#ffb462"/>
<rect x="303.5" y="227.53" width="19.9" height="41.37" fill="#ff743c"/>
<rect x="303.5" y="231.67" width="19.9" height="37.23" fill="#cce385"/>
<rect x="303.5" y="235.81" width="19.9" height="33.09" fill="#b3f396"/>
<rect x="303.5" y="239.94" width="19.9" height="28.96" fill="#d9d97d"/>
<rect x="303.5" y="244.08" width="19.9" height="24.82" fill="#ffb462"/>
<rect x="303.5" y="248.22" width="19.9" height="20.68" fill="#ff4f28"/>
<rect x="303.5" y="252.35" width="19.9" height="16.55" fill="#ff964f"/>
<rect x="303.5" y="260.63" width="19.9" height="8.27" fill="#bfec8e"/>
<rect x="303.5" y="264.76" width="19.9" height="4.14" fill="#ff0000"/>
<rect x="323" y="4.15" width="19.5" height="264.75" fill="#4c4ffc"/>
<rect x="323" y="20.7" width="19.5" height="248.2" fill="#2685f5"/>
<rect x="323" y="37.24" width="19.5" height="231.66" fill="#0da6ef"/>
<rect x="323" y="53.79" width="19.5" height="215.11" fill="#2685f5"/>
<rect x="323" y="86.88" width="19.5" height="182.02" fill="#4c4ffc"/>
<rect x="323" y="103.43" width="19.5" height="165.47" fill="#2685f5"/>
<rect x="323" y="119.98" width="19.5" height="148.92" fill="#0da6ef"/>
<rect x="323" y="153.07" width="19.5" height="115.83" fill="#2685f5"/>
<rect x="323" y="169.62" width="19.5" height="99.28" fill="#4c4ffc"/>
<rect x="323" y="186.17" width="19.5" height="82.73" fill="#2685f5"/>
<rect x="323" y="219.26" width="19.5" height="49.64" fill="#0da6ef"/>
<rect x="323" y="235.81" width="19.5" height="33.09" fill="#2685f5"/>
<rect x="323" y="252.35" width="19.5" height="16.55" fill="#4c4ffc"/>
<path d="M50 4.15V268.9M69.5 4.15V268.9M89 4.15V268.9M108.5 4.15V268.9M128 4.15V268.9M147.5 4.15V268.9M167 4.15V268.9M186.5 4.15V268.9M206 4.15V268.9M225.5 4.15V268.9M245 4.15V268.9M264.5 4.15V268.9M284 4.15V268.9M303.5 4.15V268.9M323 4.15V268.9" stroke="#000" stroke-opacity="0.6" stroke-width="0.55" fill="none"/>
<path d="M30.5 20.7H342.5M30.5 37.24H342.5M30.5 53.79H342.5M30.5 70.34H342.5M30.5 86.88H342.5M30.5 103.43H342.5M30.5 119.98H342.5M30.5 136.53H342.5M30.5 153.07H342.5M30.5 169.62H342.5M30.5 186.17H342.5M30.5 202.71H342.5M30.5 219.26H342.5M30.5 235.81H342.5M30.5 252.35H342.5" stroke="#000" stroke-opacity="0.75" stroke-width="0.55" fill="none"/>
<rect x="30.5" y="4.15" width="312" height="264.75" fill="none" stroke="#000" stroke-width="0.85"/></g>
<g><rect x="358.3" y="4.15" width="19.89" height="264.75" fill="#6628fe"/>
<rect x="358.3" y="37.24" width="19.89" height="231.66" fill="#7314ff"/>
<rect x="358.3" y="53.79" width="19.89" height="215.11" fill="#6628fe"/>
<rect x="358.3" y="119.98" width="19.89" height="148.92" fill="#7314ff"/>
<rect x="358.3" y="153.07" width="19.89" height="115.83" fill="#6628fe"/>
<rect x="358.3" y="219.26" width="19.89" height="49.64" fill="#7314ff"/>
<rect x="358.3" y="235.81" width="19.89" height="33.09" fill="#6628fe"/>
<rect x="377.79" y="4.15" width="19.89" height="264.75" fill="#0dc2e8"/>
<rect x="377.79" y="8.29" width="19.89" height="260.61" fill="#2685f5"/>
<rect x="377.79" y="12.42" width="19.89" height="256.48" fill="#00b4ec"/>
<rect x="377.79" y="16.56" width="19.89" height="252.34" fill="#0dc2e8"/>
<rect x="377.79" y="20.7" width="19.89" height="248.2" fill="#1acee3"/>
<rect x="377.79" y="24.83" width="19.89" height="244.07" fill="#00b4ec"/>
<rect x="377.79" y="33.11" width="19.89" height="235.79" fill="#26d9de"/>
<rect x="377.79" y="37.24" width="19.89" height="231.66" fill="#4062fa"/>
<rect x="377.79" y="41.38" width="19.89" height="227.52" fill="#0da6ef"/>
<rect x="377.79" y="49.65" width="19.89" height="219.25" fill="#00b4ec"/>
<rect x="377.79" y="53.79" width="19.89" height="215.11" fill="#1996f3"/>
<rect x="377.79" y="57.93" width="19.89" height="210.97" fill="#1acee3"/>
<rect x="377.79" y="62.06" width="19.89" height="206.84" fill="#00b4ec"/>
<rect x="377.79" y="66.2" width="19.89" height="202.7" fill="#0dc2e8"/>
<rect x="377.79" y="70.34" width="19.89" height="198.56" fill="#7314ff"/>
<rect x="377.79" y="86.88" width="19.89" height="182.02" fill="#1acee3"/>
<rect x="377.79" y="91.02" width="19.89" height="177.88" fill="#2685f5"/>
<rect x="377.79" y="95.16" width="19.89" height="173.74" fill="#1acee3"/>
<rect x="377.79" y="99.29" width="19.89" height="169.61" fill="#2685f5"/>
<rect x="377.79" y="107.57" width="19.89" height="161.33" fill="#0dc2e8"/>
<rect x="377.79" y="111.7" width="19.89" height="157.2" fill="#1996f3"/>
<rect x="377.79" y="115.84" width="19.89" height="153.06" fill="#2685f5"/>
<rect x="377.79" y="119.98" width="19.89" height="148.92" fill="#0da6ef"/>
<rect x="377.79" y="124.11" width="19.89" height="144.79" fill="#26d9de"/>
<rect x="377.79" y="128.25" width="19.89" height="140.65" fill="#1996f3"/>
<rect x="377.79" y="132.39" width="19.89" height="136.51" fill="#3374f8"/>
<rect x="377.79" y="136.53" width="19.89" height="132.37" fill="#1acee3"/>
<rect x="377.79" y="144.8" width="19.89" height="124.1" fill="#0da6ef"/>
<rect x="377.79" y="148.94" width="19.89" height="119.96" fill="#00b4ec"/>
<rect x="377.79" y="161.35" width="19.89" height="107.55" fill="#0da6ef"/>
<rect x="377.79" y="165.48" width="19.89" height="103.42" fill="#33e3d9"/>
<rect x="377.79" y="169.62" width="19.89" height="99.28" fill="#00b4ec"/>
<rect x="377.79" y="177.89" width="19.89" height="91.01" fill="#1996f3"/>
<rect x="377.79" y="182.03" width="19.89" height="86.87" fill="#00b4ec"/>
<rect x="377.79" y="186.17" width="19.89" height="82.73" fill="#1acee3"/>
<rect x="377.79" y="190.3" width="19.89" height="78.6" fill="#26d9de"/>
<rect x="377.79" y="198.58" width="19.89" height="70.32" fill="#00b4ec"/>
<rect x="377.79" y="206.85" width="19.89" height="62.05" fill="#4062fa"/>
<rect x="377.79" y="210.99" width="19.89" height="57.91" fill="#1996f3"/>
<rect x="377.79" y="215.12" width="19.89" height="53.78" fill="#2685f5"/>
<rect x="377.79" y="219.26" width="19.89" height="49.64" fill="#00b4ec"/>
<rect x="377.79" y="223.4" width="19.89" height="45.5" fill="#1acee3"/>
<rect x="377.79" y="231.67" width="19.89" height="37.23" fill="#0dc2e8"/>
<rect x="377.79" y="235.81" width="19.89" height="33.09" fill="#7314ff"/>
<rect x="377.79" y="252.35" width="19.89" height="16.55" fill="#00b4ec"/>
<rect x="377.79" y="260.63" width="19.89" height="8.27" fill="#0da6ef"/>
<rect x="377.79" y="264.76" width="19.89" height="4.14" fill="#00b4ec"/>
<rect x="397.28" y="4.15" width="19.89" height="264.75" fill="#4df3ce"/>
<rect x="397.28" y="8.29" width="19.89" height="260.61" fill="#33e3d9"/>
<rect x="397.28" y="16.56" width="19.89" height="252.34" fill="#26d9de"/>
<rect x="397.28" y="20.7" width="19.89" height="248.2" fill="#73febb"/>
<rect x="397.28" y="28.97" width="19.89" height="239.93" fill="#00b4ec"/>
<rect x="397.28" y="33.11" width="19.89" height="235.79" fill="#59f8c8"/>
<rect x="397.28" y="37.24" width="19.89" height="231.66" fill="#7314ff"/>
<rect x="397.28" y="45.52" width="19.89" height="223.38" fill="#4df3ce"/>
<rect x="397.28" y="53.79" width="19.89" height="215.11" fill="#59f8c8"/>
<rect x="397.28" y="57.93" width="19.89" height="210.97" fill="#73febb"/>
<rect x="397.28" y="62.06" width="19.89" height="206.84" fill="#40ecd4"/>
<rect x="397.28" y="66.2" width="19.89" height="202.7" fill="#0dc2e8"/>
<rect x="397.28" y="70.34" width="19.89" height="198.56" fill="#66fcc2"/>
<rect x="397.28" y="91.02" width="19.89" height="177.88" fill="#7314ff"/>
<rect x="397.28" y="103.43" width="19.89" height="165.47" fill="#66fcc2"/>
<rect x="397.28" y="111.7" width="19.89" height="157.2" fill="#40ecd4"/>
<rect x="397.28" y="119.98" width="19.89" height="148.92" fill="#66fcc2"/>
<rect x="397.28" y="128.25" width="19.89" height="140.65" fill="#4df3ce"/>
<rect x="397.28" y="136.53" width="19.89" height="132.37" fill="#66fcc2"/>
<rect x="397.28" y="140.66" width="19.89" height="128.24" fill="#59f8c8"/>
<rect x="397.28" y="144.8" width="19.89" height="124.1" fill="#7314ff"/>
<rect x="397.28" y="153.07" width="19.89" height="115.83" fill="#66fcc2"/>
<rect x="397.28" y="161.35" width="19.89" height="107.55" fill="#4df3ce"/>
<rect x="397.28" y="169.62" width="19.89" height="99.28" fill="#66fcc2"/>
<rect x="397.28" y="173.76" width="19.89" height="95.14" fill="#4df3ce"/>
<rect x="397.28" y="177.89" width="19.89" height="91.01" fill="#66fcc2"/>
<rect x="397.28" y="182.03" width="19.89" height="86.87" fill="#59f8c8"/>
<rect x="397.28" y="186.17" width="19.89" height="82.73" fill="#66fcc2"/>
<rect x="397.28" y="190.3" width="19.89" height="78.6" fill="#59f8c8"/>
<rect x="397.28" y="194.44" width="19.89" height="74.46" fill="#66fcc2"/>
<rect x="397.28" y="210.99" width="19.89" height="57.91" fill="#26d9de"/>
<rect x="397.28" y="215.12" width="19.89" height="53.78" fill="#66fcc2"/>
<rect x="397.28" y="219.26" width="19.89" height="49.64" fill="#59f8c8"/>
<rect x="397.28" y="223.4" width="19.89" height="45.5" fill="#4062fa"/>
<rect x="397.28" y="231.67" width="19.89" height="37.23" fill="#66fcc2"/>
<rect x="397.28" y="244.08" width="19.89" height="24.82" fill="#59f8c8"/>
<rect x="397.28" y="252.35" width="19.89" height="16.55" fill="#40ecd4"/>
<rect x="397.28" y="256.49" width="19.89" height="12.41" fill="#6628fe"/>
<rect x="397.28" y="260.63" width="19.89" height="8.27" fill="#59f8c8"/>
<rect x="397.28" y="264.76" width="19.89" height="4.14" fill="#7314ff"/>
<rect x="416.76" y="4.15" width="19.89" height="264.75" fill="#4062fa"/>
<rect x="416.76" y="8.29" width="19.89" height="260.61" fill="#1acee3"/>
<rect x="416.76" y="12.42" width="19.89" height="256.48" fill="#0dc2e8"/>
<rect x="416.76" y="16.56" width="19.89" height="252.34" fill="#00b4ec"/>
<rect x="416.76" y="37.24" width="19.89" height="231.66" fill="#0da6ef"/>
<rect x="416.76" y="41.38" width="19.89" height="227.52" fill="#0dc2e8"/>
<rect x="416.76" y="49.65" width="19.89" height="219.25" fill="#00b4ec"/>
<rect x="416.76" y="53.79" width="19.89" height="215.11" fill="#0da6ef"/>
<rect x="416.76" y="62.06" width="19.89" height="206.84" fill="#1996f3"/>
<rect x="416.76" y="66.2" width="19.89" height="202.7" fill="#0da6ef"/>
<rect x="416.76" y="70.34" width="19.89" height="198.56" fill="#2685f5"/>
<rect x="416.76" y="74.47" width="19.89" height="194.43" fill="#00b4ec"/>
<rect x="416.76" y="78.61" width="19.89" height="190.29" fill="#3374f8"/>
<rect x="416.76" y="82.75" width="19.89" height="186.15" fill="#1996f3"/>
<rect x="416.76" y="86.88" width="19.89" height="182.02" fill="#0dc2e8"/>
<rect x="416.76" y="95.16" width="19.89" height="173.74" fill="#33e3d9"/>
<rect x="416.76" y="99.29" width="19.89" height="169.61" fill="#0dc2e8"/>
<rect x="416.76" y="103.43" width="19.89" height="165.47" fill="#7314ff"/>
<rect x="416.76" y="119.98" width="19.89" height="148.92" fill="#0da6ef"/>
<rect x="416.76" y="124.11" width="19.89" height="144.79" fill="#0dc2e8"/>
<rect x="416.76" y="128.25" width="19.89" height="140.65" fill="#0da6ef"/>
<rect x="416.76" y="132.39" width="19.89" height="136.51" fill="#00b4ec"/>
<rect x="416.76" y="136.53" width="19.89" height="132.37" fill="#0da6ef"/>
<rect x="416.76" y="140.66" width="19.89" height="128.24" fill="#1996f3"/>
<rect x="416.76" y="144.8" width="19.89" height="124.1" fill="#00b4ec"/>
<rect x="416.76" y="153.07" width="19.89" height="115.83" fill="#3374f8"/>
<rect x="416.76" y="157.21" width="19.89" height="111.69" fill="#00b4ec"/>
<rect x="416.76" y="161.35" width="19.89" height="107.55" fill="#0da6ef"/>
<rect x="416.76" y="165.48" width="19.89" height="103.42" fill="#00b4ec"/>
<rect x="416.76" y="169.62" width="19.89" height="99.28" fill="#2685f5"/>
<rect x="416.76" y="182.03" width="19.89" height="86.87" fill="#00b4ec"/>
<rect x="416.76" y="186.17" width="19.89" height="82.73" fill="#0da6ef"/>
<rect x="416.76" y="190.3" width="19.89" height="78.6" fill="#2685f5"/>
<rect x="416.76" y="194.44" width="19.89" height="74.46" fill="#0dc2e8"/>
<rect x="416.76" y="198.58" width="19.89" height="70.32" fill="#00b4ec"/>
<rect x="416.76" y="202.71" width="19.89" height="66.19" fill="#7314ff"/>
<rect x="416.76" y="219.26" width="19.89" height="49.64" fill="#2685f5"/>
<rect x="416.76" y="223.4" width="19.89" height="45.5" fill="#4062fa"/>
<rect x="416.76" y="231.67" width="19.89" height="37.23" fill="#2685f5"/>
<rect x="416.76" y="235.81" width="19.89" height="33.09" fill="#4062fa"/>
<rect x="416.76" y="239.94" width="19.89" height="28.96" fill="#1acee3"/>
<rect x="416.76" y="252.35" width="19.89" height="16.55" fill="#0dc2e8"/>
<rect x="416.76" y="256.49" width="19.89" height="12.41" fill="#1996f3"/>
<rect x="416.76" y="260.63" width="19.89" height="8.27" fill="#59f8c8"/>
<rect x="436.25" y="4.15" width="19.89" height="264.75" fill="#00b4ec"/>
<rect x="436.25" y="16.56" width="19.89" height="252.34" fill="#3374f8"/>
<rect x="436.25" y="20.7" width="19.89" height="248.2" fill="#0dc2e8"/>
<rect x="436.25" y="24.83" width="19.89" height="244.07" fill="#2685f5"/>
<rect x="436.25" y="28.97" width="19.89" height="239.93" fill="#0dc2e8"/>
<rect x="436.25" y="37.24" width="19.89" height="231.66" fill="#1acee3"/>
<rect x="436.25" y="41.38" width="19.89" height="227.52" fill="#00b4ec"/>
<rect x="436.25" y="45.52" width="19.89" height="223.38" fill="#1acee3"/>
<rect x="436.25" y="53.79" width="19.89" height="215.11" fill="#26d9de"/>
<rect x="436.25" y="57.93" width="19.89" height="210.97" fill="#00b4ec"/>
<rect x="436.25" y="62.06" width="19.89" height="206.84" fill="#4062fa"/>
<rect x="436.25" y="66.2" width="19.89" height="202.7" fill="#1acee3"/>
<rect x="436.25" y="70.34" width="19.89" height="198.56" fill="#2685f5"/>
<rect x="436.25" y="74.47" width="19.89" height="194.43" fill="#4062fa"/>
<rect x="436.25" y="78.61" width="19.89" height="190.29" fill="#2685f5"/>
<rect x="436.25" y="82.75" width="19.89" height="186.15" fill="#0dc2e8"/>
<rect x="436.25" y="86.88" width="19.89" height="182.02" fill="#26d9de"/>
<rect x="436.25" y="91.02" width="19.89" height="177.88" fill="#1acee3"/>
<rect x="436.25" y="95.16" width="19.89" height="173.74" fill="#26d9de"/>
<rect x="436.25" y="99.29" width="19.89" height="169.61" fill="#0dc2e8"/>
<rect x="436.25" y="103.43" width="19.89" height="165.47" fill="#7314ff"/>
<rect x="436.25" y="119.98" width="19.89" height="148.92" fill="#26d9de"/>
<rect x="436.25" y="124.11" width="19.89" height="144.79" fill="#0da6ef"/>
<rect x="436.25" y="128.25" width="19.89" height="140.65" fill="#00b4ec"/>
<rect x="436.25" y="136.53" width="19.89" height="132.37" fill="#1acee3"/>
<rect x="436.25" y="144.8" width="19.89" height="124.1" fill="#00b4ec"/>
<rect x="436.25" y="148.94" width="19.89" height="119.96" fill="#1acee3"/>
<rect x="436.25" y="153.07" width="19.89" height="115.83" fill="#0da6ef"/>
<rect x="436.25" y="157.21" width="19.89" height="111.69" fill="#1996f3"/>
<rect x="436.25" y="161.35" width="19.89" height="107.55" fill="#1acee3"/>
<rect x="436.25" y="169.62" width="19.89" height="99.28" fill="#00b4ec"/>
<rect x="436.25" y="173.76" width="19.89" height="95.14" fill="#0da6ef"/>
<rect x="436.25" y="177.89" width="19.89" height="91.01" fill="#0dc2e8"/>
<rect x="436.25" y="190.3" width="19.89" height="78.6" fill="#00b4ec"/>
<rect x="436.25" y="194.44" width="19.89" height="74.46" fill="#1acee3"/>
<rect x="436.25" y="198.58" width="19.89" height="70.32" fill="#0dc2e8"/>
<rect x="436.25" y="202.71" width="19.89" height="66.19" fill="#7314ff"/>
<rect x="436.25" y="219.26" width="19.89" height="49.64" fill="#0da6ef"/>
<rect x="436.25" y="223.4" width="19.89" height="45.5" fill="#2685f5"/>
<rect x="436.25" y="227.53" width="19.89" height="41.37" fill="#0dc2e8"/>
<rect x="436.25" y="231.67" width="19.89" height="37.23" fill="#00b4ec"/>
<rect x="436.25" y="235.81" width="19.89" height="33.09" fill="#0da6ef"/>
<rect x="436.25" y="239.94" width="19.89" height="28.96" fill="#3374f8"/>
<rect x="436.25" y="244.08" width="19.89" height="24.82" fill="#593cfd"/>
<rect x="436.25" y="248.22" width="19.89" height="20.68" fill="#3374f8"/>
<rect x="436.25" y="252.35" width="19.89" height="16.55" fill="#0da6ef"/>
<rect x="436.25" y="256.49" width="19.89" height="12.41" fill="#1acee3"/>
<rect x="436.25" y="260.63" width="19.89" height="8.27" fill="#26d9de"/>
<rect x="436.25" y="264.76" width="19.89" height="4.14" fill="#1acee3"/>
<rect x="455.74" y="4.15" width="19.89" height="264.75" fill="#6628fe"/>
<rect x="455.74" y="37.24" width="19.89" height="231.66" fill="#7314ff"/>
<rect x="455.74" y="53.79" width="19.89" height="215.11" fill="#6628fe"/>
<rect x="455.74" y="119.98" width="19.89" height="148.92" fill="#7314ff"/>
<rect x="455.74" y="153.07" width="19.89" height="115.83" fill="#6628fe"/>
<rect x="455.74" y="219.26" width="19.89" height="49.64" fill="#7314ff"/>
<rect x="455.74" y="235.81" width="19.89" height="33.09" fill="#6628fe"/>
<rect x="475.23" y="4.15" width="19.89" height="264.75" fill="#00b4ec"/>
<rect x="475.23" y="12.42" width="19.89" height="256.48" fill="#2685f5"/>
<rect x="475.23" y="16.56" width="19.89" height="252.34" fill="#1996f3"/>
<rect x="475.23" y="20.7" width="19.89" height="248.2" fill="#00b4ec"/>
<rect x="475.23" y="24.83" width="19.89" height="244.07" fill="#1996f3"/>
<rect x="475.23" y="28.97" width="19.89" height="239.93" fill="#00b4ec"/>
<rect x="475.23" y="33.11" width="19.89" height="235.79" fill="#1acee3"/>
<rect x="475.23" y="37.24" width="19.89" height="231.66" fill="#00b4ec"/>
<rect x="475.23" y="41.38" width="19.89" height="227.52" fill="#2685f5"/>
<rect x="475.23" y="45.52" width="19.89" height="223.38" fill="#4c4ffc"/>
<rect x="475.23" y="49.65" width="19.89" height="219.25" fill="#1996f3"/>
<rect x="475.23" y="53.79" width="19.89" height="215.11" fill="#0da6ef"/>
<rect x="475.23" y="57.93" width="19.89" height="210.97" fill="#00b4ec"/>
<rect x="475.23" y="70.34" width="19.89" height="198.56" fill="#7314ff"/>
<rect x="475.23" y="86.88" width="19.89" height="182.02" fill="#26d9de"/>
<rect x="475.23" y="91.02" width="19.89" height="177.88" fill="#00b4ec"/>
<rect x="475.23" y="95.16" width="19.89" height="173.74" fill="#0dc2e8"/>
<rect x="475.23" y="99.29" width="19.89" height="169.61" fill="#2685f5"/>
<rect x="475.23" y="103.43" width="19.89" height="165.47" fill="#3374f8"/>
<rect x="475.23" y="111.7" width="19.89" height="157.2" fill="#2685f5"/>
<rect x="475.23" y="115.84" width="19.89" height="153.06" fill="#0dc2e8"/>
<rect x="475.23" y="119.98" width="19.89" height="148.92" fill="#1996f3"/>
<rect x="475.23" y="124.11" width="19.89" height="144.79" fill="#00b4ec"/>
<rect x="475.23" y="128.25" width="19.89" height="140.65" fill="#0dc2e8"/>
<rect x="475.23" y="132.39" width="19.89" height="136.51" fill="#1acee3"/>
<rect x="475.23" y="136.53" width="19.89" height="132.37" fill="#40ecd4"/>
<rect x="475.23" y="140.66" width="19.89" height="128.24" fill="#0da6ef"/>
<rect x="475.23" y="148.94" width="19.89" height="119.96" fill="#1acee3"/>
<rect x="475.23" y="153.07" width="19.89" height="115.83" fill="#1996f3"/>
<rect x="475.23" y="169.62" width="19.89" height="99.28" fill="#1acee3"/>
<rect x="475.23" y="173.76" width="19.89" height="95.14" fill="#00b4ec"/>
<rect x="475.23" y="177.89" width="19.89" height="91.01" fill="#0dc2e8"/>
<rect x="475.23" y="182.03" width="19.89" height="86.87" fill="#00b4ec"/>
<rect x="475.23" y="190.3" width="19.89" height="78.6" fill="#26d9de"/>
<rect x="475.23" y="194.44" width="19.89" height="74.46" fill="#1acee3"/>
<rect x="475.23" y="198.58" width="19.89" height="70.32" fill="#2685f5"/>
<rect x="475.23" y="202.71" width="19.89" height="66.19" fill="#3374f8"/>
<rect x="475.23" y="206.85" width="19.89" height="62.05" fill="#0dc2e8"/>
<rect x="475.23" y="210.99" width="19.89" height="57.91" fill="#2685f5"/>
<rect x="475.23" y="215.12" width="19.89" height="53.78" fill="#3374f8"/>
<rect x="475.23" y="219.26" width="19.89" height="49.64" fill="#2685f5"/>
<rect x="475.23" y="223.4" width="19.89" height="45.5" fill="#1acee3"/>
<rect x="475.23" y="227.53" width="19.89" height="41.37" fill="#3374f8"/>
<rect x="475.23" y="231.67" width="19.89" height="37.23" fill="#0dc2e8"/>
<rect x="475.23" y="235.81" width="19.89" height="33.09" fill="#7314ff"/>
<rect x="475.23" y="252.35" width="19.89" height="16.55" fill="#2685f5"/>
<rect x="475.23" y="256.49" width="19.89" height="12.41" fill="#1acee3"/>
<rect x="475.23" y="260.63" width="19.89" height="8.27" fill="#0dc2e8"/>
<rect x="475.23" y="264.76" width="19.89" height="4.14" fill="#26d9de"/>
<rect x="494.71" y="4.15" width="19.89" height="264.75" fill="#59f8c8"/>
<rect x="494.71" y="12.42" width="19.89" height="256.48" fill="#1acee3"/>
<rect x="494.71" y="16.56" width="19.89" height="252.34" fill="#4df3ce"/>
<rect x="494.71" y="20.7" width="19.89" height="248.2" fill="#59f8c8"/>
<rect x="494.71" y="33.11" width="19.89" height="235.79" fill="#33e3d9"/>
<rect x="494.71" y="37.24" width="19.89" height="231.66" fill="#7314ff"/>
<rect x="494.71" y="41.38" width="19.89" height="227.52" fill="#66fcc2"/>
<rect x="494.71" y="49.65" width="19.89" height="219.25" fill="#7314ff"/>
<rect x="494.71" y="53.79" width="19.89" height="215.11" fill="#66fcc2"/>
<rect x="494.71" y="66.2" width="19.89" height="202.7" fill="#33e3d9"/>
<rect x="494.71" y="70.34" width="19.89" height="198.56" fill="#66fcc2"/>
<rect x="494.71" y="86.88" width="19.89" height="182.02" fill="#7314ff"/>
<rect x="494.71" y="99.29" width="19.89" height="169.61" fill="#59f8c8"/>
<rect x="494.71" y="107.57" width="19.89" height="161.33" fill="#33e3d9"/>
<rect x="494.71" y="111.7" width="19.89" height="157.2" fill="#59f8c8"/>
<rect x="494.71" y="136.53" width="19.89" height="132.37" fill="#73febb"/>
<rect x="494.71" y="140.66" width="19.89" height="128.24" fill="#7314ff"/>
<rect x="494.71" y="148.94" width="19.89" height="119.96" fill="#33e3d9"/>
<rect x="494.71" y="153.07" width="19.89" height="115.83" fill="#66fcc2"/>
<rect x="494.71" y="161.35" width="19.89" height="107.55" fill="#59f8c8"/>
<rect x="494.71" y="169.62" width="19.89" height="99.28" fill="#66fcc2"/>
<rect x="494.71" y="190.3" width="19.89" height="78.6" fill="#59f8c8"/>
<rect x="494.71" y="198.58" width="19.89" height="70.32" fill="#66fcc2"/>
<rect x="494.71" y="231.67" width="19.89" height="37.23" fill="#59f8c8"/>
<rect x="494.71" y="235.81" width="19.89" height="33.09" fill="#73febb"/>
<rect x="494.71" y="239.94" width="19.89" height="28.96" fill="#4df3ce"/>
<rect x="494.71" y="244.08" width="19.89" height="24.82" fill="#66fcc2"/>
<rect x="494.71" y="252.35" width="19.89" height="16.55" fill="#7314ff"/>
<rect x="494.71" y="264.76" width="19.89" height="4.14" fill="#4df3ce"/>
<rect x="514.2" y="4.15" width="19.89" height="264.75" fill="#59f8c8"/>
<rect x="514.2" y="8.29" width="19.89" height="260.61" fill="#26d9de"/>
<rect x="514.2" y="12.42" width="19.89" height="256.48" fill="#59f8c8"/>
<rect x="514.2" y="24.83" width="19.89" height="244.07" fill="#40ecd4"/>
<rect x="514.2" y="28.97" width="19.89" height="239.93" fill="#66fcc2"/>
<rect x="514.2" y="33.11" width="19.89" height="235.79" fill="#59f8c8"/>
<rect x="514.2" y="37.24" width="19.89" height="231.66" fill="#66fcc2"/>
<rect x="514.2" y="41.38" width="19.89" height="227.52" fill="#59f8c8"/>
<rect x="514.2" y="45.52" width="19.89" height="223.38" fill="#7314ff"/>
<rect x="514.2" y="53.79" width="19.89" height="215.11" fill="#59f8c8"/>
<rect x="514.2" y="70.34" width="19.89" height="198.56" fill="#66fcc2"/>
<rect x="514.2" y="78.61" width="19.89" height="190.29" fill="#4df3ce"/>
<rect x="514.2" y="82.75" width="19.89" height="186.15" fill="#59f8c8"/>
<rect x="514.2" y="86.88" width="19.89" height="182.02" fill="#0da6ef"/>
<rect x="514.2" y="91.02" width="19.89" height="177.88" fill="#1acee3"/>
<rect x="514.2" y="95.16" width="19.89" height="173.74" fill="#66fcc2"/>
<rect x="514.2" y="99.29" width="19.89" height="169.61" fill="#7314ff"/>
<rect x="514.2" y="103.43" width="19.89" height="165.47" fill="#4df3ce"/>
<rect x="514.2" y="107.57" width="19.89" height="161.33" fill="#66fcc2"/>
<rect x="514.2" y="115.84" width="19.89" height="153.06" fill="#59f8c8"/>
<rect x="514.2" y="124.11" width="19.89" height="144.79" fill="#73febb"/>
<rect x="514.2" y="128.25" width="19.89" height="140.65" fill="#59f8c8"/>
<rect x="514.2" y="132.39" width="19.89" height="136.51" fill="#4df3ce"/>
<rect x="514.2" y="136.53" width="19.89" height="132.37" fill="#7314ff"/>
<rect x="514.2" y="144.8" width="19.89" height="124.1" fill="#73febb"/>
<rect x="514.2" y="148.94" width="19.89" height="119.96" fill="#3374f8"/>
<rect x="514.2" y="153.07" width="19.89" height="115.83" fill="#66fcc2"/>
<rect x="514.2" y="157.21" width="19.89" height="111.69" fill="#59f8c8"/>
<rect x="514.2" y="169.62" width="19.89" height="99.28" fill="#1acee3"/>
<rect x="514.2" y="173.76" width="19.89" height="95.14" fill="#73febb"/>
<rect x="514.2" y="177.89" width="19.89" height="91.01" fill="#33e3d9"/>
<rect x="514.2" y="182.03" width="19.89" height="86.87" fill="#40ecd4"/>
<rect x="514.2" y="186.17" width="19.89" height="82.73" fill="#66fcc2"/>
<rect x="514.2" y="194.44" width="19.89" height="74.46" fill="#4df3ce"/>
<rect x="514.2" y="206.85" width="19.89" height="62.05" fill="#73febb"/>
<rect x="514.2" y="215.12" width="19.89" height="53.78" fill="#40ecd4"/>
<rect x="514.2" y="219.26" width="19.89" height="49.64" fill="#66fcc2"/>
<rect x="514.2" y="227.53" width="19.89" height="41.37" fill="#59f8c8"/>
<rect x="514.2" y="235.81" width="19.89" height="33.09" fill="#66fcc2"/>
<rect x="514.2" y="239.94" width="19.89" height="28.96" fill="#4df3ce"/>
<rect x="514.2" y="248.22" width="19.89" height="20.68" fill="#66fcc2"/>
<rect x="514.2" y="252.35" width="19.89" height="16.55" fill="#59f8c8"/>
<rect x="514.2" y="256.49" width="19.89" height="12.41" fill="#7314ff"/>
<rect x="533.69" y="4.15" width="19.89" height="264.75" fill="#00b4ec"/>
<rect x="533.69" y="8.29" width="19.89" height="260.61" fill="#1996f3"/>
<rect x="533.69" y="16.56" width="19.89" height="252.34" fill="#26d9de"/>
<rect x="533.69" y="20.7" width="19.89" height="248.2" fill="#00b4ec"/>
<rect x="533.69" y="28.97" width="19.89" height="239.93" fill="#2685f5"/>
<rect x="533.69" y="33.11" width="19.89" height="235.79" fill="#00b4ec"/>
<rect x="533.69" y="37.24" width="19.89" height="231.66" fill="#1acee3"/>
<rect x="533.69" y="45.52" width="19.89" height="223.38" fill="#00b4ec"/>
<rect x="533.69" y="49.65" width="19.89" height="219.25" fill="#4062fa"/>
<rect x="533.69" y="53.79" width="19.89" height="215.11" fill="#2685f5"/>
<rect x="533.69" y="57.93" width="19.89" height="210.97" fill="#1acee3"/>
<rect x="533.69" y="62.06" width="19.89" height="206.84" fill="#4062fa"/>
<rect x="533.69" y="66.2" width="19.89" height="202.7" fill="#00b4ec"/>
<rect x="533.69" y="70.34" width="19.89" height="198.56" fill="#4c4ffc"/>
<rect x="533.69" y="74.47" width="19.89" height="194.43" fill="#1996f3"/>
<rect x="533.69" y="78.61" width="19.89" height="190.29" fill="#4c4ffc"/>
<rect x="533.69" y="82.75" width="19.89" height="186.15" fill="#4062fa"/>
<rect x="533.69" y="86.88" width="19.89" height="182.02" fill="#33e3d9"/>
<rect x="533.69" y="91.02" width="19.89" height="177.88" fill="#0dc2e8"/>
<rect x="533.69" y="99.29" width="19.89" height="169.61" fill="#1acee3"/>
<rect x="533.69" y="103.43" width="19.89" height="165.47" fill="#7314ff"/>
<rect x="533.69" y="119.98" width="19.89" height="148.92" fill="#00b4ec"/>
<rect x="533.69" y="124.11" width="19.89" height="144.79" fill="#3374f8"/>
<rect x="533.69" y="128.25" width="19.89" height="140.65" fill="#2685f5"/>
<rect x="533.69" y="132.39" width="19.89" height="136.51" fill="#0dc2e8"/>
<rect x="533.69" y="136.53" width="19.89" height="132.37" fill="#00b4ec"/>
<rect x="533.69" y="140.66" width="19.89" height="128.24" fill="#0dc2e8"/>
<rect x="533.69" y="144.8" width="19.89" height="124.1" fill="#0da6ef"/>
<rect x="533.69" y="148.94" width="19.89" height="119.96" fill="#00b4ec"/>
<rect x="533.69" y="153.07" width="19.89" height="115.83" fill="#1996f3"/>
<rect x="533.69" y="157.21" width="19.89" height="111.69" fill="#00b4ec"/>
<rect x="533.69" y="161.35" width="19.89" height="107.55" fill="#0da6ef"/>
<rect x="533.69" y="165.48" width="19.89" height="103.42" fill="#00b4ec"/>
<rect x="533.69" y="169.62" width="19.89" height="99.28" fill="#0da6ef"/>
<rect x="533.69" y="173.76" width="19.89" height="95.14" fill="#1996f3"/>
<rect x="533.69" y="177.89" width="19.89" height="91.01" fill="#00b4ec"/>
<rect x="533.69" y="190.3" width="19.89" height="78.6" fill="#1996f3"/>
<rect x="533.69" y="194.44" width="19.89" height="74.46" fill="#00b4ec"/>
<rect x="533.69" y="202.71" width="19.89" height="66.19" fill="#7314ff"/>
<rect x="533.69" y="219.26" width="19.89" height="49.64" fill="#1acee3"/>
<rect x="533.69" y="223.4" width="19.89" height="45.5" fill="#0da6ef"/>
<rect x="533.69" y="227.53" width="19.89" height="41.37" fill="#1996f3"/>
<rect x="533.69" y="231.67" width="19.89" height="37.23" fill="#3374f8"/>
<rect x="533.69" y="239.94" width="19.89" height="28.96" fill="#1acee3"/>
<rect x="533.69" y="244.08" width="19.89" height="24.82" fill="#2685f5"/>
<rect x="533.69" y="248.22" width="19.89" height="20.68" fill="#0dc2e8"/>
<rect x="533.69" y="260.63" width="19.89" height="8.27" fill="#4df3ce"/>
<rect x="533.69" y="264.76" width="19.89" height="4.14" fill="#1996f3"/>
<rect x="553.17" y="4.15" width="19.89" height="264.75" fill="#6628fe"/>
<rect x="553.17" y="37.24" width="19.89" height="231.66" fill="#7314ff"/>
<rect x="553.17" y="53.79" width="19.89" height="215.11" fill="#6628fe"/>
<rect x="553.17" y="119.98" width="19.89" height="148.92" fill="#7314ff"/>
<rect x="553.17" y="153.07" width="19.89" height="115.83" fill="#6628fe"/>
<rect x="553.17" y="219.26" width="19.89" height="49.64" fill="#7314ff"/>
<rect x="553.17" y="235.81" width="19.89" height="33.09" fill="#6628fe"/>
<rect x="572.66" y="4.15" width="19.89" height="264.75" fill="#0dc2e8"/>
<rect x="572.66" y="12.42" width="19.89" height="256.48" fill="#2685f5"/>
<rect x="572.66" y="16.56" width="19.89" height="252.34" fill="#0da6ef"/>
<rect x="572.66" y="20.7" width="19.89" height="248.2" fill="#00b4ec"/>
<rect x="572.66" y="33.11" width="19.89" height="235.79" fill="#0dc2e8"/>
<rect x="572.66" y="37.24" width="19.89" height="231.66" fill="#1996f3"/>
<rect x="572.66" y="41.38" width="19.89" height="227.52" fill="#00b4ec"/>
<rect x="572.66" y="49.65" width="19.89" height="219.25" fill="#0da6ef"/>
<rect x="572.66" y="57.93" width="19.89" height="210.97" fill="#00b4ec"/>
<rect x="572.66" y="66.2" width="19.89" height="202.7" fill="#0da6ef"/>
<rect x="572.66" y="70.34" width="19.89" height="198.56" fill="#7314ff"/>
<rect x="572.66" y="86.88" width="19.89" height="182.02" fill="#1996f3"/>
<rect x="572.66" y="91.02" width="19.89" height="177.88" fill="#3374f8"/>
<rect x="572.66" y="95.16" width="19.89" height="173.74" fill="#1996f3"/>
<rect x="572.66" y="99.29" width="19.89" height="169.61" fill="#0dc2e8"/>
<rect x="572.66" y="103.43" width="19.89" height="165.47" fill="#1996f3"/>
<rect x="572.66" y="107.57" width="19.89" height="161.33" fill="#3374f8"/>
<rect x="572.66" y="111.7" width="19.89" height="157.2" fill="#00b4ec"/>
<rect x="572.66" y="115.84" width="19.89" height="153.06" fill="#3374f8"/>
<rect x="572.66" y="119.98" width="19.89" height="148.92" fill="#1acee3"/>
<rect x="572.66" y="124.11" width="19.89" height="144.79" fill="#3374f8"/>
<rect x="572.66" y="128.25" width="19.89" height="140.65" fill="#1acee3"/>
<rect x="572.66" y="132.39" width="19.89" height="136.51" fill="#2685f5"/>
<rect x="572.66" y="136.53" width="19.89" height="132.37" fill="#1996f3"/>
<rect x="572.66" y="140.66" width="19.89" height="128.24" fill="#0dc2e8"/>
<rect x="572.66" y="144.8" width="19.89" height="124.1" fill="#00b4ec"/>
<rect x="572.66" y="148.94" width="19.89" height="119.96" fill="#1996f3"/>
<rect x="572.66" y="153.07" width="19.89" height="115.83" fill="#2685f5"/>
<rect x="572.66" y="157.21" width="19.89" height="111.69" fill="#0dc2e8"/>
<rect x="572.66" y="161.35" width="19.89" height="107.55" fill="#0da6ef"/>
<rect x="572.66" y="165.48" width="19.89" height="103.42" fill="#00b4ec"/>
<rect x="572.66" y="169.62" width="19.89" height="99.28" fill="#0dc2e8"/>
<rect x="572.66" y="173.76" width="19.89" height="95.14" fill="#00b4ec"/>
<rect x="572.66" y="190.3" width="19.89" height="78.6" fill="#0dc2e8"/>
<rect x="572.66" y="198.58" width="19.89" height="70.32" fill="#00b4ec"/>
<rect x="572.66" y="202.71" width="19.89" height="66.19" fill="#1acee3"/>
<rect x="572.66" y="210.99" width="19.89" height="57.91" fill="#4c4ffc"/>
<rect x="572.66" y="215.12" width="19.89" height="53.78" fill="#1acee3"/>
<rect x="572.66" y="223.4" width="19.89" height="45.5" fill="#3374f8"/>
<rect x="572.66" y="227.53" width="19.89" height="41.37" fill="#1acee3"/>
<rect x="572.66" y="235.81" width="19.89" height="33.09" fill="#7314ff"/>
<rect x="572.66" y="252.35" width="19.89" height="16.55" fill="#2685f5"/>
<rect x="572.66" y="256.49" width="19.89" height="12.41" fill="#0dc2e8"/>
<rect x="572.66" y="264.76" width="19.89" height="4.14" fill="#0da6ef"/>
<rect x="592.15" y="4.15" width="19.89" height="264.75" fill="#2685f5"/>
<rect x="592.15" y="8.29" width="19.89" height="260.61" fill="#0dc2e8"/>
<rect x="592.15" y="12.42" width="19.89" height="256.48" fill="#00b4ec"/>
<rect x="592.15" y="24.83" width="19.89" height="244.07" fill="#1acee3"/>
<rect x="592.15" y="28.97" width="19.89" height="239.93" fill="#1996f3"/>
<rect x="592.15" y="33.11" width="19.89" height="235.79" fill="#0da6ef"/>
<rect x="592.15" y="37.24" width="19.89" height="231.66" fill="#0dc2e8"/>
<rect x="592.15" y="41.38" width="19.89" height="227.52" fill="#4062fa"/>
<rect x="592.15" y="45.52" width="19.89" height="223.38" fill="#0da6ef"/>
<rect x="592.15" y="49.65" width="19.89" height="219.25" fill="#26d9de"/>
<rect x="592.15" y="53.79" width="19.89" height="215.11" fill="#0dc2e8"/>
<rect x="592.15" y="57.93" width="19.89" height="210.97" fill="#00b4ec"/>
<rect x="592.15" y="62.06" width="19.89" height="206.84" fill="#1acee3"/>
<rect x="592.15" y="66.2" width="19.89" height="202.7" fill="#26d9de"/>
<rect x="592.15" y="70.34" width="19.89" height="198.56" fill="#7314ff"/>
<rect x="592.15" y="86.88" width="19.89" height="182.02" fill="#1acee3"/>
<rect x="592.15" y="91.02" width="19.89" height="177.88" fill="#0da6ef"/>
<rect x="592.15" y="95.16" width="19.89" height="173.74" fill="#26d9de"/>
<rect x="592.15" y="99.29" width="19.89" height="169.61" fill="#00b4ec"/>
<rect x="592.15" y="103.43" width="19.89" height="165.47" fill="#2685f5"/>
<rect x="592.15" y="107.57" width="19.89" height="161.33" fill="#0dc2e8"/>
<rect x="592.15" y="111.7" width="19.89" height="157.2" fill="#2685f5"/>
<rect x="592.15" y="115.84" width="19.89" height="153.06" fill="#4062fa"/>
<rect x="592.15" y="119.98" width="19.89" height="148.92" fill="#2685f5"/>
<rect x="592.15" y="124.11" width="19.89" height="144.79" fill="#00b4ec"/>
<rect x="592.15" y="128.25" width="19.89" height="140.65" fill="#26d9de"/>
<rect x="592.15" y="132.39" width="19.89" height="136.51" fill="#0da6ef"/>
<rect x="592.15" y="136.53" width="19.89" height="132.37" fill="#1acee3"/>
<rect x="592.15" y="140.66" width="19.89" height="128.24" fill="#00b4ec"/>
<rect x="592.15" y="144.8" width="19.89" height="124.1" fill="#2685f5"/>
<rect x="592.15" y="148.94" width="19.89" height="119.96" fill="#1acee3"/>
<rect x="592.15" y="153.07" width="19.89" height="115.83" fill="#1996f3"/>
<rect x="592.15" y="157.21" width="19.89" height="111.69" fill="#0da6ef"/>
<rect x="592.15" y="161.35" width="19.89" height="107.55" fill="#1996f3"/>
<rect x="592.15" y="165.48" width="19.89" height="103.42" fill="#0da6ef"/>
<rect x="592.15" y="169.62" width="19.89" height="99.28" fill="#00b4ec"/>
<rect x="592.15" y="173.76" width="19.89" height="95.14" fill="#2685f5"/>
<rect x="592.15" y="177.89" width="19.89" height="91.01" fill="#00b4ec"/>
<rect x="592.15" y="182.03" width="19.89" height="86.87" fill="#0dc2e8"/>
<rect x="592.15" y="186.17" width="19.89" height="82.73" fill="#1acee3"/>
<rect x="592.15" y="190.3" width="19.89" height="78.6" fill="#00b4ec"/>
<rect x="592.15" y="202.71" width="19.89" height="66.19" fill="#2685f5"/>
<rect x="592.15" y="206.85" width="19.89" height="62.05" fill="#3374f8"/>
<rect x="592.15" y="210.99" width="19.89" height="57.91" fill="#0dc2e8"/>
<rect x="592.15" y="215.12" width="19.89" height="53.78" fill="#1996f3"/>
<rect x="592.15" y="219.26" width="19.89" height="49.64" fill="#3374f8"/>
<rect x="592.15" y="223.4" width="19.89" height="45.5" fill="#1acee3"/>
<rect x="592.15" y="227.53" width="19.89" height="41.37" fill="#0dc2e8"/>
<rect x="592.15" y="231.67" width="19.89" height="37.23" fill="#1acee3"/>
<rect x="592.15" y="235.81" width="19.89" height="33.09" fill="#7314ff"/>
<rect x="592.15" y="252.35" width="19.89" height="16.55" fill="#1996f3"/>
<rect x="592.15" y="256.49" width="19.89" height="12.41" fill="#0dc2e8"/>
<rect x="592.15" y="260.63" width="19.89" height="8.27" fill="#0da6ef"/>
<rect x="592.15" y="264.76" width="19.89" height="4.14" fill="#1acee3"/>
<rect x="611.64" y="4.15" width="19.89" height="264.75" fill="#4df3ce"/>
<rect x="611.64" y="8.29" width="19.89" height="260.61" fill="#33e3d9"/>
<rect x="611.64" y="12.42" width="19.89" height="256.48" fill="#73febb"/>
<rect x="611.64" y="16.56" width="19.89" height="252.34" fill="#33e3d9"/>
<rect x="611.64" y="20.7" width="19.89" height="248.2" fill="#40ecd4"/>
<rect x="611.64" y="24.83" width="19.89" height="244.07" fill="#59f8c8"/>
<rect x="611.64" y="41.38" width="19.89" height="227.52" fill="#7314ff"/>
<rect x="611.64" y="49.65" width="19.89" height="219.25" fill="#4df3ce"/>
<rect x="611.64" y="57.93" width="19.89" height="210.97" fill="#66fcc2"/>
<rect x="611.64" y="66.2" width="19.89" height="202.7" fill="#4df3ce"/>
<rect x="611.64" y="70.34" width="19.89" height="198.56" fill="#66fcc2"/>
<rect x="611.64" y="78.61" width="19.89" height="190.29" fill="#40ecd4"/>
<rect x="611.64" y="82.75" width="19.89" height="186.15" fill="#59f8c8"/>
<rect x="611.64" y="86.88" width="19.89" height="182.02" fill="#593cfd"/>
<rect x="611.64" y="91.02" width="19.89" height="177.88" fill="#6628fe"/>
<rect x="611.64" y="95.16" width="19.89" height="173.74" fill="#7314ff"/>
<rect x="611.64" y="99.29" width="19.89" height="169.61" fill="#593cfd"/>
<rect x="611.64" y="103.43" width="19.89" height="165.47" fill="#66fcc2"/>
<rect x="611.64" y="115.84" width="19.89" height="153.06" fill="#4df3ce"/>
<rect x="611.64" y="119.98" width="19.89" height="148.92" fill="#3374f8"/>
<rect x="611.64" y="124.11" width="19.89" height="144.79" fill="#66fcc2"/>
<rect x="611.64" y="132.39" width="19.89" height="136.51" fill="#4df3ce"/>
<rect x="611.64" y="136.53" width="19.89" height="132.37" fill="#7314ff"/>
<rect x="611.64" y="140.66" width="19.89" height="128.24" fill="#66fcc2"/>
<rect x="611.64" y="148.94" width="19.89" height="119.96" fill="#7314ff"/>
<rect x="611.64" y="153.07" width="19.89" height="115.83" fill="#66fcc2"/>
<rect x="611.64" y="161.35" width="19.89" height="107.55" fill="#59f8c8"/>
<rect x="611.64" y="169.62" width="19.89" height="99.28" fill="#66fcc2"/>
<rect x="611.64" y="173.76" width="19.89" height="95.14" fill="#40ecd4"/>
<rect x="611.64" y="177.89" width="19.89" height="91.01" fill="#33e3d9"/>
<rect x="611.64" y="182.03" width="19.89" height="86.87" fill="#66fcc2"/>
<rect x="611.64" y="194.44" width="19.89" height="74.46" fill="#40ecd4"/>
<rect x="611.64" y="198.58" width="19.89" height="70.32" fill="#59f8c8"/>
<rect x="611.64" y="202.71" width="19.89" height="66.19" fill="#66fcc2"/>
<rect x="611.64" y="210.99" width="19.89" height="57.91" fill="#33e3d9"/>
<rect x="611.64" y="215.12" width="19.89" height="53.78" fill="#59f8c8"/>
<rect x="611.64" y="219.26" width="19.89" height="49.64" fill="#4df3ce"/>
<rect x="611.64" y="223.4" width="19.89" height="45.5" fill="#59f8c8"/>
<rect x="611.64" y="227.53" width="19.89" height="41.37" fill="#4df3ce"/>
<rect x="611.64" y="235.81" width="19.89" height="33.09" fill="#40ecd4"/>
<rect x="611.64" y="239.94" width="19.89" height="28.96" fill="#66fcc2"/>
<rect x="611.64" y="248.22" width="19.89" height="20.68" fill="#59f8c8"/>
<rect x="611.64" y="252.35" width="19.89" height="16.55" fill="#7314ff"/>
<rect x="611.64" y="260.63" width="19.89" height="8.27" fill="#66fcc2"/>
<rect x="611.64" y="264.76" width="19.89" height="4.14" fill="#7314ff"/>
<rect x="631.12" y="4.15" width="19.89" height="264.75" fill="#1996f3"/>
<rect x="631.12" y="8.29" width="19.89" height="260.61" fill="#1acee3"/>
<rect x="631.12" y="12.42" width="19.89" height="256.48" fill="#0dc2e8"/>
<rect x="631.12" y="16.56" width="19.89" height="252.34" fill="#1acee3"/>
<rect x="631.12" y="20.7" width="19.89" height="248.2" fill="#0da6ef"/>
<rect x="631.12" y="24.83" width="19.89" height="244.07" fill="#1996f3"/>
<rect x="631.12" y="33.11" width="19.89" height="235.79" fill="#0dc2e8"/>
<rect x="631.12" y="37.24" width="19.89" height="231.66" fill="#00b4ec"/>
<rect x="631.12" y="41.38" width="19.89" height="227.52" fill="#0dc2e8"/>
<rect x="631.12" y="49.65" width="19.89" height="219.25" fill="#00b4ec"/>
<rect x="631.12" y="57.93" width="19.89" height="210.97" fill="#3374f8"/>
<rect x="631.12" y="66.2" width="19.89" height="202.7" fill="#1996f3"/>
<rect x="631.12" y="70.34" width="19.89" height="198.56" fill="#2685f5"/>
<rect x="631.12" y="74.47" width="19.89" height="194.43" fill="#1996f3"/>
<rect x="631.12" y="78.61" width="19.89" height="190.29" fill="#1acee3"/>
<rect x="631.12" y="82.75" width="19.89" height="186.15" fill="#2685f5"/>
<rect x="631.12" y="86.88" width="19.89" height="182.02" fill="#0dc2e8"/>
<rect x="631.12" y="95.16" width="19.89" height="173.74" fill="#26d9de"/>
<rect x="631.12" y="99.29" width="19.89" height="169.61" fill="#0dc2e8"/>
<rect x="631.12" y="103.43" width="19.89" height="165.47" fill="#7314ff"/>
<rect x="631.12" y="119.98" width="19.89" height="148.92" fill="#2685f5"/>
<rect x="631.12" y="124.11" width="19.89" height="144.79" fill="#1acee3"/>
<rect x="631.12" y="128.25" width="19.89" height="140.65" fill="#1996f3"/>
<rect x="631.12" y="132.39" width="19.89" height="136.51" fill="#00b4ec"/>
<rect x="631.12" y="136.53" width="19.89" height="132.37" fill="#1acee3"/>
<rect x="631.12" y="140.66" width="19.89" height="128.24" fill="#0dc2e8"/>
<rect x="631.12" y="144.8" width="19.89" height="124.1" fill="#2685f5"/>
<rect x="631.12" y="148.94" width="19.89" height="119.96" fill="#1acee3"/>
<rect x="631.12" y="153.07" width="19.89" height="115.83" fill="#1996f3"/>
<rect x="631.12" y="157.21" width="19.89" height="111.69" fill="#0da6ef"/>
<rect x="631.12" y="173.76" width="19.89" height="95.14" fill="#0dc2e8"/>
<rect x="631.12" y="177.89" width="19.89" height="91.01" fill="#00b4ec"/>
<rect x="631.12" y="182.03" width="19.89" height="86.87" fill="#3374f8"/>
<rect x="631.12" y="186.17" width="19.89" height="82.73" fill="#1996f3"/>
<rect x="631.12" y="190.3" width="19.89" height="78.6" fill="#00b4ec"/>
<rect x="631.12" y="202.71" width="19.89" height="66.19" fill="#7314ff"/>
<rect x="631.12" y="219.26" width="19.89" height="49.64" fill="#0da6ef"/>
<rect x="631.12" y="223.4" width="19.89" height="45.5" fill="#00b4ec"/>
<rect x="631.12" y="227.53" width="19.89" height="41.37" fill="#33e3d9"/>
<rect x="631.12" y="231.67" width="19.89" height="37.23" fill="#1996f3"/>
<rect x="631.12" y="235.81" width="19.89" height="33.09" fill="#3374f8"/>
<rect x="631.12" y="239.94" width="19.89" height="28.96" fill="#0da6ef"/>
<rect x="631.12" y="244.08" width="19.89" height="24.82" fill="#1acee3"/>
<rect x="631.12" y="248.22" width="19.89" height="20.68" fill="#33e3d9"/>
<rect x="631.12" y="252.35" width="19.89" height="16.55" fill="#1acee3"/>
<rect x="631.12" y="260.63" width="19.89" height="8.27" fill="#0da6ef"/>
<rect x="631.12" y="264.76" width="19.89" height="4.14" fill="#4df3ce"/>
<rect x="650.61" y="4.15" width="19.49" height="264.75" fill="#6628fe"/>
<rect x="650.61" y="37.24" width="19.49" height="231.66" fill="#7314ff"/>
<rect x="650.61" y="53.79" width="19.49" height="215.11" fill="#6628fe"/>
<rect x="650.61" y="119.98" width="19.49" height="148.92" fill="#7314ff"/>
<rect x="650.61" y="153.07" width="19.49" height="115.83" fill="#6628fe"/>
<rect x="650.61" y="219.26" width="19.49" height="49.64" fill="#7314ff"/>
<rect x="650.61" y="235.81" width="19.49" height="33.09" fill="#6628fe"/>
<path d="M377.79 4.15V268.9M397.28 4.15V268.9M416.76 4.15V268.9M436.25 4.15V268.9M455.74 4.15V268.9M475.23 4.15V268.9M494.71 4.15V268.9M514.2 4.15V268.9M533.69 4.15V268.9M553.17 4.15V268.9M572.66 4.15V268.9M592.15 4.15V268.9M611.64 4.15V268.9M631.12 4.15V268.9M650.61 4.15V268.9" stroke="#000" stroke-opacity="0.6" stroke-width="0.55" fill="none"/>
<path d="M358.3 20.7H670.1M358.3 37.24H670.1M358.3 53.79H670.1M358.3 70.34H670.1M358.3 86.88H670.1M358.3 103.43H670.1M358.3 119.98H670.1M358.3 136.53H670.1M358.3 153.07H670.1M358.3 169.62H670.1M358.3 186.17H670.1M358.3 202.71H670.1M358.3 219.26H670.1M358.3 235.81H670.1M358.3 252.35H670.1" stroke="#000" stroke-opacity="0.75" stroke-width="0.55" fill="none"/>
<rect x="358.3" y="4.15" width="311.8" height="264.75" fill="none" stroke="#000" stroke-width="0.85"/></g>
<path d="M30.5 268.9v14.4M108.5 268.9v14.4M186.5 268.9v14.4M264.5 268.9v14.4M342.5 268.9v14.4M358.3 268.9v14.4M436.25 268.9v14.4M514.2 268.9v14.4M592.15 268.9v14.4M670.1 268.9v14.4M30.5 4.15h-14.4M670.1 4.15h14.4M30.5 70.34h-14.4M670.1 70.34h14.4M30.5 136.53h-14.4M670.1 136.53h14.4M30.5 202.71h-14.4M670.1 202.71h14.4M30.5 268.9h-14.4M670.1 268.9h14.4" stroke="#000" stroke-width="0.85" fill="none"/>
<path d="M50 268.9v1.9M69.5 268.9v1.9M89 268.9v1.9M128 268.9v1.9M147.5 268.9v1.9M167 268.9v1.9M206 268.9v1.9M225.5 268.9v1.9M245 268.9v1.9M284 268.9v1.9M303.5 268.9v1.9M323 268.9v1.9M377.79 268.9v1.9M397.28 268.9v1.9M416.76 268.9v1.9M455.74 268.9v1.9M475.23 268.9v1.9M494.71 268.9v1.9M533.69 268.9v1.9M553.17 268.9v1.9M572.66 268.9v1.9M611.64 268.9v1.9M631.12 268.9v1.9M650.61 268.9v1.9M30.5 20.7h-1.9M670.1 20.7h1.9M30.5 37.24h-1.9M670.1 37.24h1.9M30.5 53.79h-1.9M670.1 53.79h1.9M30.5 86.88h-1.9M670.1 86.88h1.9M30.5 103.43h-1.9M670.1 103.43h1.9M30.5 119.98h-1.9M670.1 119.98h1.9M30.5 153.07h-1.9M670.1 153.07h1.9M30.5 169.62h-1.9M670.1 169.62h1.9M30.5 186.17h-1.9M670.1 186.17h1.9M30.5 219.26h-1.9M670.1 219.26h1.9M30.5 235.81h-1.9M670.1 235.81h1.9M30.5 252.35h-1.9M670.1 252.35h1.9" stroke="#000" stroke-width="0.7" fill="none"/>
<defs><linearGradient id="cb" x1="0" y1="0" x2="0" y2="1"><stop offset="0" stop-color="#ff0000"/><stop offset="0.03" stop-color="#ff190d"/><stop offset="0.06" stop-color="#ff3219"/><stop offset="0.09" stop-color="#ff4a25"/><stop offset="0.12" stop-color="#ff6232"/><stop offset="0.16" stop-color="#ff783e"/><stop offset="0.19" stop-color="#ff8e4a"/><stop offset="0.22" stop-color="#ffa256"/><stop offset="0.25" stop-color="#ffb462"/><stop offset="0.28" stop-color="#efc56d"/><stop offset="0.31" stop-color="#dfd478"/><stop offset="0.34" stop-color="#cfe183"/><stop offset="0.38" stop-color="#bfec8e"/><stop offset="0.41" stop-color="#aff498"/><stop offset="0.44" stop-color="#9ffaa2"/><stop offset="0.47" stop-color="#8ffeab"/><stop offset="0.5" stop-color="#80ffb4"/><stop offset="0.53" stop-color="#70febd"/><stop offset="0.56" stop-color="#60fac5"/><stop offset="0.59" stop-color="#50f4cd"/><stop offset="0.62" stop-color="#40ecd4"/><stop offset="0.66" stop-color="#30e1db"/><stop offset="0.69" stop-color="#20d4e1"/><stop offset="0.72" stop-color="#10c5e7"/><stop offset="0.75" stop-color="#00b4ec"/><stop offset="0.78" stop-color="#10a2f0"/><stop offset="0.81" stop-color="#208ef4"/><stop offset="0.84" stop-color="#3078f7"/><stop offset="0.88" stop-color="#4062fa"/><stop offset="0.91" stop-color="#504afc"/><stop offset="0.94" stop-color="#6032fe"/><stop offset="0.97" stop-color="#7019ff"/><stop offset="1" stop-color="#8000ff"/></linearGradient></defs>
<rect x="719.5" y="4.4" width="16.7" height="240.2" fill="url(#cb)" stroke="#000" stroke-width="0.85"/>
<path d="M736.2 4.4h2.8M736.2 64.45h2.8M736.2 124.5h2.8M736.2 184.55h2.8M736.2 244.6h2.8" stroke="#000" stroke-width="0.85" fill="none"/>
<g opacity="0.999" stroke="#000" stroke-width="0.22"><text transform="translate(43.6 284.4)" font-size="11.65"><tspan x="0" y="-0.09">Ω</tspan><tspan x="9" y="1.88" font-size="8.15" font-style="italic">c</tspan><tspan x="16.07" y="-0.09">=</tspan><tspan x="28.07" y="-0.09">0</tspan><tspan x="37.17" y="-5.49" font-size="8.15">∘</tspan></text>
<text transform="translate(130.2 284.4)" font-size="11.65"><tspan x="0" y="-0.09">9</tspan><tspan x="7.4" y="-0.09">0</tspan><tspan x="16.49" y="-5.49" font-size="8.15">∘</tspan></text>
<text transform="translate(204.9 284.4)" font-size="11.65"><tspan x="0" y="-0.09">1</tspan><tspan x="7.4" y="-0.09">8</tspan><tspan x="14.79" y="-0.09">0</tspan><tspan x="23.89" y="-5.49" font-size="8.15">∘</tspan></text>
<text transform="translate(282.9 284.4)" font-size="11.65"><tspan x="0" y="-0.09">2</tspan><tspan x="7.4" y="-0.09">7</tspan><tspan x="14.79" y="-0.09">0</tspan><tspan x="23.89" y="-5.49" font-size="8.15">∘</tspan></text>
<text transform="translate(139.6 300)" font-size="11.45"><tspan x="0" y="-0.64">Ω</tspan><tspan x="8.89" y="1.16" font-size="8.01" font-style="italic">b</tspan><tspan x="16.54" y="-0.64">∈</tspan><tspan x="28.8" y="-0.64">[</tspan><tspan x="33.29" y="-0.64">0</tspan><tspan x="42.28" y="-5.65" font-size="8.01">∘</tspan><tspan x="49.19" y="-0.64">,</tspan><tspan x="58.82" y="-0.64">3</tspan><tspan x="66.13" y="-0.64">6</tspan><tspan x="73.45" y="-0.64">0</tspan><tspan x="82.44" y="-5.65" font-size="8.01">∘</tspan><tspan x="89.35" y="-0.64">)</tspan></text>
<text transform="translate(371.4 284.4)" font-size="11.65"><tspan x="0" y="-0.09">Ω</tspan><tspan x="9" y="1.88" font-size="8.15" font-style="italic">c</tspan><tspan x="16.07" y="-0.09">=</tspan><tspan x="28.07" y="-0.09">0</tspan><tspan x="37.17" y="-5.49" font-size="8.15">∘</tspan></text>
<text transform="translate(458 284.4)" font-size="11.65"><tspan x="0" y="-0.09">9</tspan><tspan x="7.4" y="-0.09">0</tspan><tspan x="16.49" y="-5.49" font-size="8.15">∘</tspan></text>
<text transform="translate(532.7 284.4)" font-size="11.65"><tspan x="0" y="-0.09">1</tspan><tspan x="7.4" y="-0.09">8</tspan><tspan x="14.79" y="-0.09">0</tspan><tspan x="23.89" y="-5.49" font-size="8.15">∘</tspan></text>
<text transform="translate(610.7 284.4)" font-size="11.65"><tspan x="0" y="-0.09">2</tspan><tspan x="7.4" y="-0.09">7</tspan><tspan x="14.79" y="-0.09">0</tspan><tspan x="23.89" y="-5.49" font-size="8.15">∘</tspan></text>
<text transform="translate(467.4 300)" font-size="11.45"><tspan x="0" y="-0.64">Ω</tspan><tspan x="8.89" y="1.16" font-size="8.01" font-style="italic">b</tspan><tspan x="16.54" y="-0.64">∈</tspan><tspan x="28.8" y="-0.64">[</tspan><tspan x="33.29" y="-0.64">0</tspan><tspan x="42.28" y="-5.65" font-size="8.01">∘</tspan><tspan x="49.19" y="-0.64">,</tspan><tspan x="58.82" y="-0.64">3</tspan><tspan x="66.13" y="-0.64">6</tspan><tspan x="73.45" y="-0.64">0</tspan><tspan x="82.44" y="-5.65" font-size="8.01">∘</tspan><tspan x="89.35" y="-0.64">)</tspan></text>
<text transform="translate(23.8 257.8) rotate(-90)" font-size="11.65"><tspan x="0" y="-0.09" font-style="italic">ω</tspan><tspan x="9.73" y="1.88" font-size="8.15" font-style="italic">c</tspan><tspan x="16.8" y="-0.09">=</tspan><tspan x="28.81" y="-0.09">0</tspan><tspan x="37.9" y="-5.49" font-size="8.15">∘</tspan></text>
<text transform="translate(23.8 182.4) rotate(-90)" font-size="11.65"><tspan x="0" y="-0.09">9</tspan><tspan x="7.4" y="-0.09">0</tspan><tspan x="16.49" y="-5.49" font-size="8.15">∘</tspan></text>
<text transform="translate(23.8 121.2) rotate(-90)" font-size="11.65"><tspan x="0" y="-0.09">1</tspan><tspan x="7.4" y="-0.09">8</tspan><tspan x="14.79" y="-0.09">0</tspan><tspan x="23.89" y="-5.49" font-size="8.15">∘</tspan></text>
<text transform="translate(23.8 53.4) rotate(-90)" font-size="11.65"><tspan x="0" y="-0.09">2</tspan><tspan x="7.4" y="-0.09">7</tspan><tspan x="14.79" y="-0.09">0</tspan><tspan x="23.89" y="-5.49" font-size="8.15">∘</tspan></text>
<text transform="translate(9.5 236) rotate(-90)" font-size="11.45"><tspan x="0" y="-0.64" font-style="italic">ω</tspan><tspan x="9.63" y="1.16" font-size="8.01" font-style="italic">b</tspan><tspan x="17.28" y="-0.64">∈</tspan><tspan x="29.54" y="-0.64">[</tspan><tspan x="34.03" y="-0.64">0</tspan><tspan x="43.02" y="-5.65" font-size="8.01">∘</tspan><tspan x="49.92" y="-0.64">,</tspan><tspan x="59.55" y="-0.64">3</tspan><tspan x="66.87" y="-0.64">6</tspan><tspan x="74.19" y="-0.64">0</tspan><tspan x="83.18" y="-5.65" font-size="8.01">∘</tspan><tspan x="90.09" y="-0.64">)</tspan><tspan x="94.57" y="-0.64">,</tspan><tspan x="104.2" y="-0.64" font-style="italic">ω</tspan><tspan x="113.83" y="1.16" font-size="8.01" font-style="italic">d</tspan><tspan x="121.48" y="-0.64">∈</tspan><tspan x="133.74" y="-0.64">[</tspan><tspan x="138.23" y="-0.64">0</tspan><tspan x="147.22" y="-5.65" font-size="8.01">∘</tspan><tspan x="154.13" y="-0.64">,</tspan><tspan x="163.76" y="-0.64">3</tspan><tspan x="171.07" y="-0.64">6</tspan><tspan x="178.39" y="-0.64">0</tspan><tspan x="187.38" y="-5.65" font-size="8.01">∘</tspan><tspan x="194.29" y="-0.64">)</tspan></text>
<text transform="translate(675.3 19)" font-size="11.65"><tspan x="0" y="-0.09">2</tspan><tspan x="7.4" y="-0.09">7</tspan><tspan x="14.79" y="-0.09">0</tspan><tspan x="23.89" y="-5.49" font-size="8.15">∘</tspan></text>
<text transform="translate(675.3 35.55)" font-size="11.65"><tspan x="0" y="-0.09">1</tspan><tspan x="7.4" y="-0.09">8</tspan><tspan x="14.79" y="-0.09">0</tspan><tspan x="23.89" y="-5.49" font-size="8.15">∘</tspan></text>
<text transform="translate(675.3 52.09)" font-size="11.65"><tspan x="0" y="-0.09">9</tspan><tspan x="7.4" y="-0.09">0</tspan><tspan x="16.49" y="-5.49" font-size="8.15">∘</tspan></text>
<text transform="translate(675.3 68.64)" font-size="11.65"><tspan x="0" y="-0.09">0</tspan><tspan x="9.1" y="-5.49" font-size="8.15">∘</tspan></text>
<text transform="translate(675.3 85.19)" font-size="11.65"><tspan x="0" y="-0.09">2</tspan><tspan x="7.4" y="-0.09">7</tspan><tspan x="14.79" y="-0.09">0</tspan><tspan x="23.89" y="-5.49" font-size="8.15">∘</tspan></text>
<text transform="translate(675.3 101.73)" font-size="11.65"><tspan x="0" y="-0.09">1</tspan><tspan x="7.4" y="-0.09">8</tspan><tspan x="14.79" y="-0.09">0</tspan><tspan x="23.89" y="-5.49" font-size="8.15">∘</tspan></text>
<text transform="translate(675.3 118.28)" font-size="11.65"><tspan x="0" y="-0.09">9</tspan><tspan x="7.4" y="-0.09">0</tspan><tspan x="16.49" y="-5.49" font-size="8.15">∘</tspan></text>
<text transform="translate(675.3 134.83)" font-size="11.65"><tspan x="0" y="-0.09">0</tspan><tspan x="9.1" y="-5.49" font-size="8.15">∘</tspan></text>
<text transform="translate(675.3 151.38)" font-size="11.65"><tspan x="0" y="-0.09">2</tspan><tspan x="7.4" y="-0.09">7</tspan><tspan x="14.79" y="-0.09">0</tspan><tspan x="23.89" y="-5.49" font-size="8.15">∘</tspan></text>
<text transform="translate(675.3 167.92)" font-size="11.65"><tspan x="0" y="-0.09">1</tspan><tspan x="7.4" y="-0.09">8</tspan><tspan x="14.79" y="-0.09">0</tspan><tspan x="23.89" y="-5.49" font-size="8.15">∘</tspan></text>
<text transform="translate(675.3 184.47)" font-size="11.65"><tspan x="0" y="-0.09">9</tspan><tspan x="7.4" y="-0.09">0</tspan><tspan x="16.49" y="-5.49" font-size="8.15">∘</tspan></text>
<text transform="translate(675.3 201.02)" font-size="11.65"><tspan x="0" y="-0.09">0</tspan><tspan x="9.1" y="-5.49" font-size="8.15">∘</tspan></text>
<text transform="translate(675.3 217.56)" font-size="11.65"><tspan x="0" y="-0.09">2</tspan><tspan x="7.4" y="-0.09">7</tspan><tspan x="14.79" y="-0.09">0</tspan><tspan x="23.89" y="-5.49" font-size="8.15">∘</tspan></text>
<text transform="translate(675.3 234.11)" font-size="11.65"><tspan x="0" y="-0.09">1</tspan><tspan x="7.4" y="-0.09">8</tspan><tspan x="14.79" y="-0.09">0</tspan><tspan x="23.89" y="-5.49" font-size="8.15">∘</tspan></text>
<text transform="translate(675.3 250.66)" font-size="11.65"><tspan x="0" y="-0.09">9</tspan><tspan x="7.4" y="-0.09">0</tspan><tspan x="16.49" y="-5.49" font-size="8.15">∘</tspan></text>
<text transform="translate(675.6 267.2)" font-size="11.65"><tspan x="0" y="-0.09" font-style="italic">ω</tspan><tspan x="9.73" y="1.88" font-size="8.15" font-style="italic">b</tspan><tspan x="17.49" y="-0.09">=</tspan><tspan x="29.5" y="-0.09">0</tspan><tspan x="38.59" y="-5.49" font-size="8.15">∘</tspan></text>
<text transform="translate(742.6 9.3)" font-size="11.65"><tspan x="0" y="-0.09">0</tspan><tspan x="7.4" y="-0.09">.</tspan><tspan x="11.09" y="-0.09">9</tspan></text>
<text transform="translate(742.6 69.35)" font-size="11.65"><tspan x="0" y="-0.09">0</tspan><tspan x="7.4" y="-0.09">.</tspan><tspan x="10.22" y="-0.09">7</tspan></text>
<text transform="translate(742.6 129.4)" font-size="11.65"><tspan x="0" y="-0.09">0</tspan><tspan x="7.4" y="-0.09">.</tspan><tspan x="11.09" y="-0.09">5</tspan></text>
<text transform="translate(742.6 189.45)" font-size="11.65"><tspan x="0" y="-0.09">0</tspan><tspan x="7.4" y="-0.09">.</tspan><tspan x="11.09" y="-0.09">3</tspan></text>
<text transform="translate(742.6 249.5)" font-size="11.65"><tspan x="0" y="-0.09">0</tspan><tspan x="7.4" y="-0.09">.</tspan><tspan x="11.09" y="-0.09">1</tspan></text></g>
</svg>
</body></html>
